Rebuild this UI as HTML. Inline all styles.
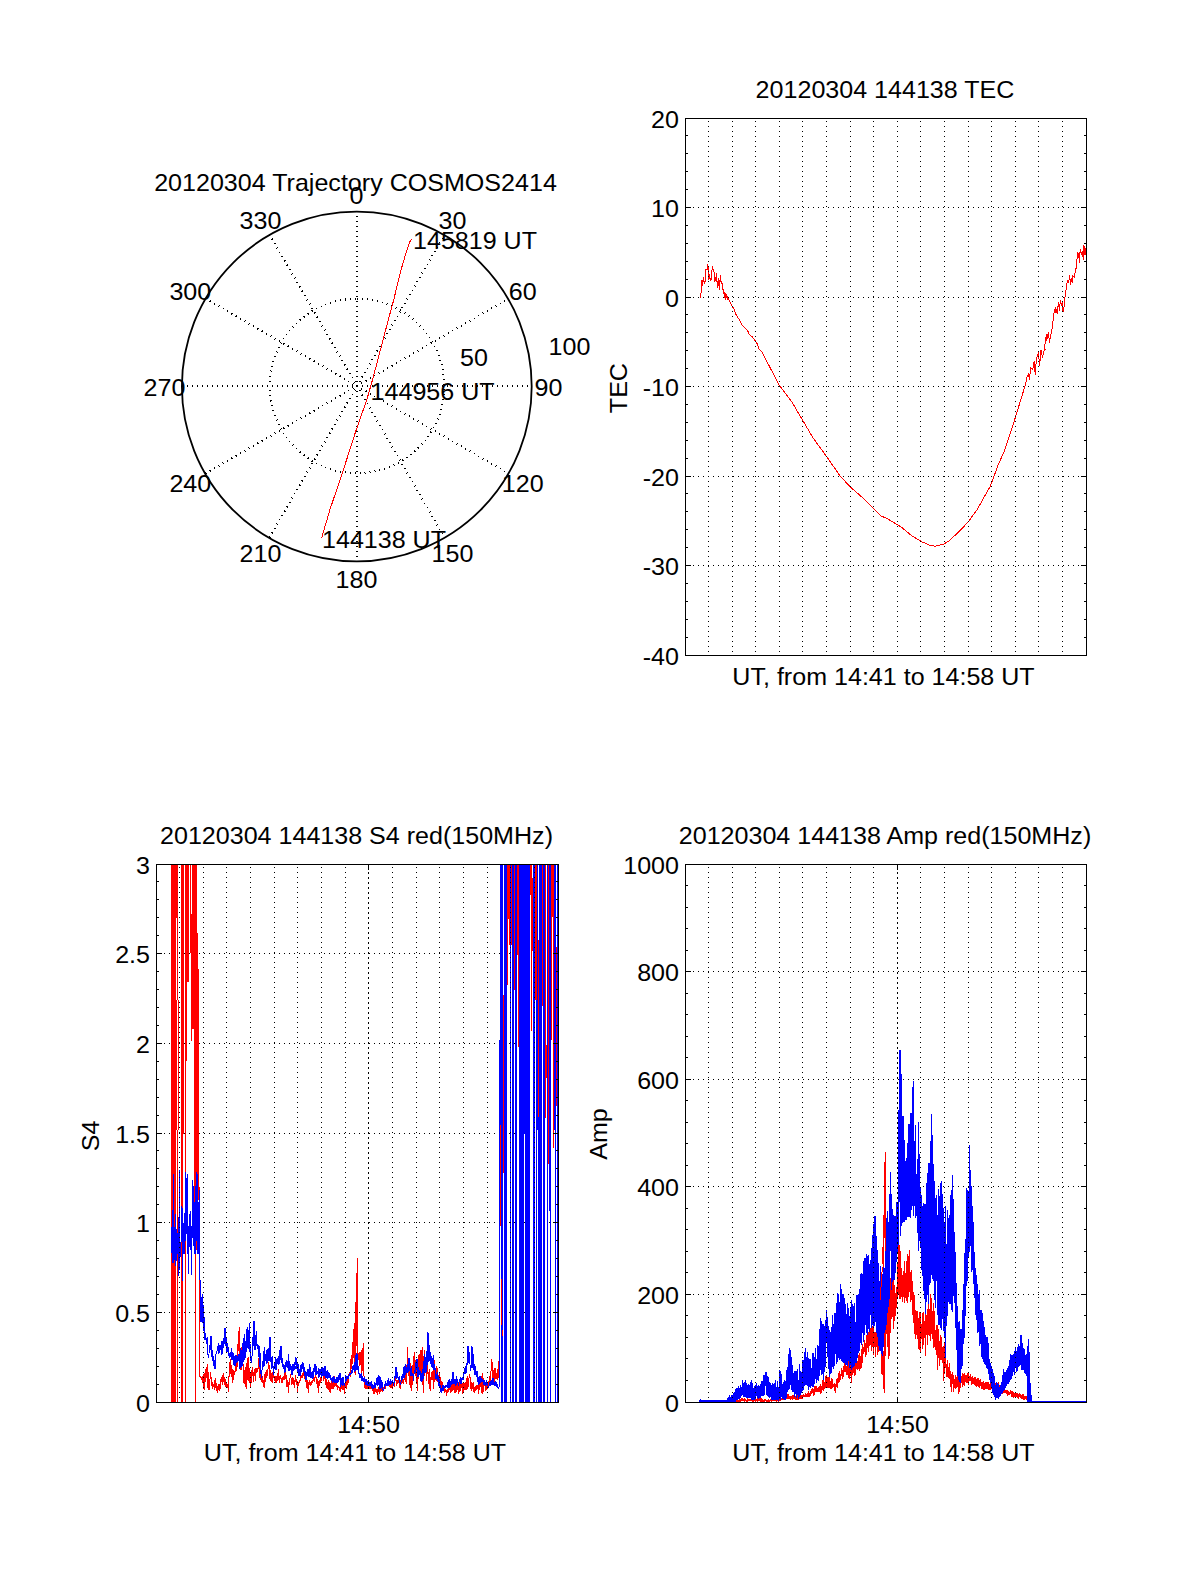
<!DOCTYPE html>
<html lang="en"><head><meta charset="utf-8"><title>20120304 144138 COSMOS2414</title>
<style>
html,body{margin:0;padding:0;background:#fff}
body{width:1200px;height:1575px;overflow:hidden}
svg{display:block;font-family:"Liberation Sans",Arial,Helvetica,sans-serif;fill:#000}
.ax{stroke:#000;stroke-width:1;fill:none;shape-rendering:crispEdges}
.gmaj{stroke:#000;stroke-width:1;fill:none;stroke-dasharray:1 4;shape-rendering:crispEdges}
.gmin{stroke:#000;stroke-width:1;fill:none;stroke-dasharray:1 4;shape-rendering:crispEdges}
.pg{stroke:#000;stroke-width:2;fill:none;stroke-dasharray:1 4;shape-rendering:crispEdges}
.pc{stroke:#000;stroke-width:1.8;fill:none}
.gx{stroke:#000;stroke-width:1;fill:none;stroke-dasharray:2 3;shape-rendering:crispEdges}
.fr{fill:#f00;shape-rendering:crispEdges}
.fb{fill:#00f;shape-rendering:crispEdges}
.fw{fill:#fff;shape-rendering:crispEdges}
.ra{stroke:#f00;stroke-width:1;fill:none}
.r{stroke:#f00;stroke-width:1;fill:none;shape-rendering:crispEdges;stroke-linejoin:round}
.b{stroke:#00f;stroke-width:1;fill:none;shape-rendering:crispEdges;stroke-linejoin:round}
</style></head><body>
<svg width="1200" height="1575" viewBox="0 0 1200 1575">
<rect width="1200" height="1575" fill="#fff"/>
<text transform="translate(355.5 191) scale(1.045 1)" text-anchor="middle" font-size="24">20120304 Trajectory COSMOS2414</text>
<path class="pg" d="M269.50 537.55L444.50 234.45"/>
<path class="pg" d="M205.45 473.50L508.55 298.50"/>
<path class="pg" d="M182.00 386.00L532.00 386.00"/>
<path class="pg" d="M205.45 298.50L508.55 473.50"/>
<path class="pg" d="M269.50 234.45L444.50 537.55"/>
<path class="pg" d="M357.00 211.00L357.00 561.00"/>
<path class="pg" d="M357 298.75A87.25 87.25 0 1 1 357 473.25A87.25 87.25 0 1 1 357 298.75"/>
<circle class="pc" cx="356.8" cy="386.5" r="174.9"/>
<text transform="translate(356.5 203.5) scale(1.045 1)" text-anchor="middle" font-size="24">0</text>
<text transform="translate(452.5 229.3) scale(1.045 1)" text-anchor="middle" font-size="24">30</text>
<text transform="translate(522.7 299.5) scale(1.045 1)" text-anchor="middle" font-size="24">60</text>
<text transform="translate(548.5 395.5) scale(1.045 1)" text-anchor="middle" font-size="24">90</text>
<text transform="translate(522.7 491.5) scale(1.045 1)" text-anchor="middle" font-size="24">120</text>
<text transform="translate(452.5 561.7) scale(1.045 1)" text-anchor="middle" font-size="24">150</text>
<text transform="translate(356.5 587.5) scale(1.045 1)" text-anchor="middle" font-size="24">180</text>
<text transform="translate(260.5 561.7) scale(1.045 1)" text-anchor="middle" font-size="24">210</text>
<text transform="translate(190.3 491.5) scale(1.045 1)" text-anchor="middle" font-size="24">240</text>
<text transform="translate(164.5 395.5) scale(1.045 1)" text-anchor="middle" font-size="24">270</text>
<text transform="translate(190.3 299.5) scale(1.045 1)" text-anchor="middle" font-size="24">300</text>
<text transform="translate(260.5 229.3) scale(1.045 1)" text-anchor="middle" font-size="24">330</text>
<text transform="translate(460 366) scale(1.045 1)" text-anchor="start" font-size="24">50</text>
<text transform="translate(548.5 355) scale(1.045 1)" text-anchor="start" font-size="24">100</text>
<path class="r" d="M321.5 538.5L329.8 510.0L342.5 472.5L356.0 430.5L366.9 399.4L373.1 377.7L380.0 351.4L386.9 325.1L393.7 300.0L400.6 271.4L406.3 252.0L409.7 241.7L411.8 239.4"/>
<text transform="translate(322 547.5) scale(1.045 1)" text-anchor="start" font-size="24">144138 UT</text>
<text transform="translate(370.6 400) scale(1.045 1)" text-anchor="start" font-size="24">144956 UT</text>
<text transform="translate(413 249) scale(1.045 1)" text-anchor="start" font-size="24">145819 UT</text>
<path class="gmaj" d="M693 565.5H1086"/>
<path class="gmaj" d="M693 476.5H1086"/>
<path class="gmaj" d="M693 386.5H1086"/>
<path class="gmaj" d="M693 297.5H1086"/>
<path class="gmaj" d="M693 207.5H1086"/>
<path class="r" d="M700.0 297.5L701.2 292.5L701.7 280.4L702.5 285.8L703.3 277.5L704.2 283.3L705.4 280.8L705.8 269.6L707.1 270.0L707.5 264.6L708.5 267.9L708.8 280.0L709.6 275.0L710.4 280.8L711.2 279.2L711.8 271.7L712.5 266.2L713.3 270.0L714.2 272.5L714.8 281.2L715.8 278.3L716.5 273.3L717.3 287.5L718.3 278.8L719.3 289.2L720.4 275.0L721.2 283.3L722.1 283.3L722.9 290.0L723.8 289.2L724.2 297.5L725.0 292.5L725.7 300.0L726.7 294.2L727.5 300.0L728.3 298.3L732.5 306.7L734.2 309.2L735.8 314.2L740.0 320.8L742.1 325.0L747.5 330.4L749.2 334.2L752.5 337.1L757.5 344.2L759.2 349.6L761.7 351.7L779.2 385.0L791.7 401.7L802.5 420.0L813.3 438.3L826.7 456.7L840.0 475.8L850.0 486.7L863.3 498.3L873.3 508.3L880.8 515.8L888.3 519.2L900.8 526.7L911.7 535.8L921.7 541.7L929.2 545.0L935.0 546.3L941.7 544.7L944.0 543.9L948.9 541.1L960.7 530.0L968.4 521.6L977.5 509.0L984.5 496.4L990.1 486.7L994.3 475.5L998.4 464.3L1004.0 451.7L1008.2 439.2L1013.8 422.4L1019.4 404.3L1025.0 386.1L1027.1 377.0L1028.5 373.5L1029.5 379.8L1030.6 367.2L1032.7 370.0L1034.1 361.7L1035.2 374.2L1036.4 359.6L1038.3 352.6L1039.7 365.1L1041.0 349.8L1042.4 357.5L1044.3 349.8L1045.4 349.1L1044.7 349.6L1045.4 337.4L1046.2 340.5L1047.0 334.4L1047.7 338.2L1048.5 332.5L1049.5 342.4L1050.4 336.7L1051.5 331.3L1052.7 326.0L1053.4 315.3L1054.6 310.0L1055.1 313.0L1055.7 307.3L1057.2 313.4L1058.4 302.4L1059.5 310.8L1060.3 300.5L1061.4 305.4L1062.2 302.4L1063.0 311.9L1064.1 306.2L1064.7 298.6L1065.6 293.2L1066.5 286.4L1067.5 280.3L1068.7 282.6L1069.6 275.3L1070.6 284.5L1071.7 278.8L1072.6 282.6L1072.9 275.7L1074.4 277.2L1075.1 271.9L1076.1 268.1L1076.9 261.2L1077.4 252.1L1078.2 257.4L1079.0 252.9L1079.3 262.8L1080.2 249.4L1081.2 254.4L1082.2 251.3L1082.8 256.3L1083.4 245.2L1083.8 259.3L1084.5 246.4L1085.0 255.1L1085.8 248.3"/>
<path class="gmin" d="M708.5 121V655"/>
<path class="gmin" d="M732.5 121V655"/>
<path class="gmin" d="M755.5 121V655"/>
<path class="gmin" d="M779.5 121V655"/>
<path class="gmin" d="M802.5 121V655"/>
<path class="gmin" d="M826.5 121V655"/>
<path class="gmin" d="M850.5 121V655"/>
<path class="gmin" d="M873.5 121V655"/>
<path class="gmin" d="M897.5 121V655"/>
<path class="gmin" d="M920.5 121V655"/>
<path class="gmin" d="M944.5 121V655"/>
<path class="gmin" d="M968.5 121V655"/>
<path class="gmin" d="M991.5 121V655"/>
<path class="gmin" d="M1015.5 121V655"/>
<path class="gmin" d="M1038.5 121V655"/>
<path class="gmin" d="M1062.5 121V655"/>
<path class="ax" d="M685.5 118.5H1086.5V655.5H685.5Z"/>
<path class="ax" d="M685 655.5h6M1087 655.5h-6"/>
<text transform="translate(679 664.5) scale(1.045 1)" text-anchor="end" font-size="24">-40</text>
<path class="ax" d="M685 637.5h3M1087 637.5h-3"/>
<path class="ax" d="M685 619.5h3M1087 619.5h-3"/>
<path class="ax" d="M685 601.5h3M1087 601.5h-3"/>
<path class="ax" d="M685 583.5h3M1087 583.5h-3"/>
<path class="ax" d="M685 565.5h6M1087 565.5h-6"/>
<text transform="translate(679 574.5) scale(1.045 1)" text-anchor="end" font-size="24">-30</text>
<path class="ax" d="M685 547.5h3M1087 547.5h-3"/>
<path class="ax" d="M685 529.5h3M1087 529.5h-3"/>
<path class="ax" d="M685 511.5h3M1087 511.5h-3"/>
<path class="ax" d="M685 493.5h3M1087 493.5h-3"/>
<path class="ax" d="M685 476.5h6M1087 476.5h-6"/>
<text transform="translate(679 485.5) scale(1.045 1)" text-anchor="end" font-size="24">-20</text>
<path class="ax" d="M685 458.5h3M1087 458.5h-3"/>
<path class="ax" d="M685 440.5h3M1087 440.5h-3"/>
<path class="ax" d="M685 422.5h3M1087 422.5h-3"/>
<path class="ax" d="M685 404.5h3M1087 404.5h-3"/>
<path class="ax" d="M685 386.5h6M1087 386.5h-6"/>
<text transform="translate(679 395.5) scale(1.045 1)" text-anchor="end" font-size="24">-10</text>
<path class="ax" d="M685 368.5h3M1087 368.5h-3"/>
<path class="ax" d="M685 350.5h3M1087 350.5h-3"/>
<path class="ax" d="M685 332.5h3M1087 332.5h-3"/>
<path class="ax" d="M685 314.5h3M1087 314.5h-3"/>
<path class="ax" d="M685 297.5h6M1087 297.5h-6"/>
<text transform="translate(679 306.5) scale(1.045 1)" text-anchor="end" font-size="24">0</text>
<path class="ax" d="M685 279.5h3M1087 279.5h-3"/>
<path class="ax" d="M685 261.5h3M1087 261.5h-3"/>
<path class="ax" d="M685 243.5h3M1087 243.5h-3"/>
<path class="ax" d="M685 225.5h3M1087 225.5h-3"/>
<path class="ax" d="M685 207.5h6M1087 207.5h-6"/>
<text transform="translate(679 216.5) scale(1.045 1)" text-anchor="end" font-size="24">10</text>
<path class="ax" d="M685 189.5h3M1087 189.5h-3"/>
<path class="ax" d="M685 171.5h3M1087 171.5h-3"/>
<path class="ax" d="M685 153.5h3M1087 153.5h-3"/>
<path class="ax" d="M685 135.5h3M1087 135.5h-3"/>
<path class="ax" d="M685 118.5h6M1087 118.5h-6"/>
<text transform="translate(679 127.5) scale(1.045 1)" text-anchor="end" font-size="24">20</text>
<text transform="translate(885.0 97.5) scale(1.045 1)" text-anchor="middle" font-size="24">20120304 144138 TEC</text>
<text transform="translate(883.5 684.5) scale(1.045 1)" text-anchor="middle" font-size="24">UT, from 14:41 to 14:58 UT</text>
<text transform="translate(626.5 388.1) rotate(-90) scale(1.045 1)" text-anchor="middle" font-size="24">TEC</text>
<path class="gmaj" d="M164 1312.5H558"/>
<path class="gmaj" d="M164 1222.5H558"/>
<path class="gmaj" d="M164 1133.5H558"/>
<path class="gmaj" d="M164 1043.5H558"/>
<path class="gmaj" d="M164 953.5H558"/>
<rect class="fr" x="171" y="865" width="5" height="537"/>
<rect class="fr" x="176" y="865" width="1" height="53"/>
<rect class="fr" x="176" y="1000" width="1" height="130"/>
<rect class="fr" x="177" y="865" width="1" height="135"/>
<rect class="fr" x="177" y="1130" width="1" height="272"/>
<rect class="fr" x="178" y="1000" width="1" height="130"/>
<rect class="fr" x="181" y="865" width="2" height="537"/>
<rect class="fr" x="183" y="865" width="1" height="269"/>
<rect class="fr" x="185" y="865" width="1" height="537"/>
<rect class="fr" x="186" y="865" width="1" height="196"/>
<rect class="fr" x="187" y="865" width="2" height="117"/>
<rect class="fr" x="190" y="865" width="1" height="88"/>
<rect class="fr" x="191" y="914" width="1" height="127"/>
<rect class="fr" x="192" y="865" width="2" height="164"/>
<rect class="fr" x="194" y="865" width="1" height="385"/>
<rect class="fr" x="195" y="865" width="1" height="537"/>
<rect class="fr" x="196" y="865" width="1" height="385"/>
<rect class="fr" x="197" y="933" width="1" height="267"/>
<rect class="fr" x="198" y="969" width="1" height="231"/>
<rect class="fr" x="199" y="1187" width="1" height="189"/>
<path class="r" d="M199.5 1376.0L201.1 1377.4L201.6 1379.5L202.1 1377.1L202.6 1382.8L203.1 1374.6L203.6 1384.5L204.1 1390.0L204.6 1386.7L205.1 1369.8L205.6 1381.8L206.1 1367.0L206.6 1377.5L207.1 1364.4L207.6 1387.6L208.1 1372.7L208.6 1389.6L209.1 1390.0L209.6 1389.2L210.1 1377.2L210.6 1372.5L211.1 1378.0L211.6 1386.0L212.1 1382.2L212.6 1388.5L213.1 1386.1L213.6 1386.5L214.1 1383.7L214.6 1389.7L215.1 1378.1L215.6 1387.2L216.1 1383.6L216.6 1390.3L217.1 1388.2L217.6 1392.5L218.1 1384.1L218.6 1389.3L219.1 1385.8L219.6 1390.3L220.1 1382.1L220.6 1388.1L221.1 1376.9L221.6 1381.9L222.1 1379.2L222.6 1384.3L223.1 1373.1L223.6 1381.2L224.1 1376.9L224.6 1384.3L225.1 1379.4L225.6 1386.6L226.1 1383.3L226.6 1387.2L227.1 1384.2L227.6 1387.8L228.1 1388.2L228.6 1391.9L229.1 1373.3L229.6 1376.8L230.1 1358.8L230.6 1373.5L231.1 1365.5L231.6 1376.8L232.1 1369.6L232.6 1382.4L233.1 1370.2L233.6 1379.1L234.1 1370.8L234.6 1375.0L235.1 1370.2L235.6 1371.1L236.1 1364.1L236.6 1370.4L237.1 1357.4L237.6 1366.1L238.1 1339.1L238.6 1350.5L239.1 1326.9L239.6 1354.9L240.1 1353.1L240.6 1368.7L241.1 1370.0L241.6 1363.8L242.1 1343.8L242.6 1363.9L243.1 1364.3L243.6 1382.1L244.1 1371.1L244.6 1383.6L245.1 1367.4L245.6 1379.2L246.1 1388.8L246.6 1384.1L247.1 1358.0L247.6 1379.3L248.1 1357.5L248.6 1380.9L249.1 1367.9L249.6 1382.6L250.1 1373.7L250.6 1387.5L251.1 1371.9L251.6 1382.7L252.1 1367.3L252.6 1375.5L253.1 1372.3L253.6 1381.8L254.1 1371.1L254.6 1375.8L255.1 1367.9L255.6 1380.5L256.1 1368.2L256.6 1372.1L257.1 1368.0L257.6 1371.4L258.1 1367.9L258.6 1358.1L259.1 1369.3L259.6 1377.4L260.1 1373.5L260.6 1380.0L261.1 1375.2L261.6 1381.2L262.1 1376.6L262.6 1382.2L263.1 1380.5L263.6 1382.9L264.1 1387.5L264.6 1380.8L265.1 1372.2L265.6 1381.8L266.1 1372.4L266.6 1377.1L267.1 1369.0L267.6 1375.5L268.1 1367.8L268.6 1362.5L269.1 1365.4L269.6 1378.9L270.1 1370.3L270.6 1380.6L271.1 1373.1L271.6 1378.8L272.1 1382.5L272.6 1377.8L273.1 1370.8L273.6 1377.7L274.1 1376.7L274.6 1380.7L275.1 1376.6L275.6 1382.0L276.1 1382.5L276.6 1378.6L277.1 1376.0L277.6 1381.0L278.1 1371.8L278.6 1370.0L279.1 1382.5L279.6 1379.1L280.1 1374.9L280.6 1378.6L281.1 1378.2L281.6 1382.2L282.1 1382.5L282.6 1381.6L283.1 1376.2L283.6 1379.7L284.1 1375.5L284.6 1379.6L285.1 1371.2L285.6 1378.7L286.1 1375.1L286.6 1386.7L287.1 1379.9L287.6 1386.5L288.1 1382.2L288.6 1392.5L289.1 1380.7L289.6 1384.8L290.1 1376.3L290.6 1375.0L291.1 1378.7L291.6 1384.4L292.1 1376.9L292.6 1383.6L293.1 1378.7L293.6 1384.9L294.1 1380.0L294.6 1387.5L295.1 1381.3L295.6 1375.0L296.1 1379.6L296.6 1384.9L297.1 1381.6L297.6 1391.9L298.1 1383.3L298.6 1385.9L299.1 1380.7L299.6 1382.3L300.1 1379.5L300.6 1380.1L301.1 1375.6L301.6 1377.8L302.1 1376.8L302.6 1377.2L303.1 1371.8L303.6 1375.5L304.1 1367.5L304.6 1378.4L305.1 1373.2L305.6 1381.2L306.1 1372.1L306.6 1387.4L307.1 1380.4L307.6 1388.6L308.1 1382.6L308.6 1392.5L309.1 1380.7L309.6 1384.5L310.1 1381.8L310.6 1385.2L311.1 1382.6L311.6 1384.7L312.1 1380.7L312.6 1382.2L313.1 1379.4L313.6 1380.6L314.1 1377.5L314.6 1381.4L315.1 1377.3L315.6 1372.5L316.1 1378.5L316.6 1383.8L317.1 1379.5L317.6 1387.2L318.1 1381.0L318.6 1392.5L319.1 1382.4L319.6 1385.7L320.1 1379.2L320.6 1382.7L321.1 1376.4L321.6 1380.1L322.1 1372.7L322.6 1375.6L323.1 1368.8L323.6 1380.7L324.1 1373.8L324.6 1378.7L325.1 1376.4L325.6 1385.0L326.1 1379.5L326.6 1387.7L327.1 1382.3L327.6 1388.7L328.1 1380.4L328.6 1389.2L329.1 1382.3L329.6 1391.6L330.1 1385.1L330.6 1392.5L331.1 1381.3L331.6 1388.3L332.1 1381.4L332.6 1388.3L333.1 1381.0L333.6 1389.0L334.1 1376.2L334.6 1386.6L335.1 1383.1L335.6 1385.4L336.1 1380.7L336.6 1386.5L337.1 1385.5L337.6 1389.7L338.1 1386.6L338.6 1387.2L339.1 1387.0L339.6 1390.6L340.1 1386.9L340.6 1391.4L341.1 1387.3L341.6 1388.8L342.1 1383.9L342.6 1389.2L343.1 1382.6L343.6 1389.2L344.1 1386.8L344.6 1393.1L345.1 1383.2L345.6 1387.9L346.1 1382.9L346.6 1388.6L347.1 1378.6L347.6 1384.5L348.1 1378.0L348.6 1383.0L349.1 1372.3L349.6 1375.7L350.1 1372.9L350.6 1376.4L351.1 1355.8L351.6 1368.5L352.1 1352.6L352.6 1363.1L353.1 1337.8L353.6 1357.5L354.1 1323.0L354.6 1363.2L355.1 1374.7L355.6 1351.8L356.1 1292.5L356.6 1345.2L357.1 1258.2L357.6 1353.7L358.1 1353.0L358.6 1360.0L359.1 1352.7L359.6 1366.0L360.1 1352.5L360.6 1364.3L361.1 1350.2L361.6 1377.5L362.1 1357.2L362.6 1370.6L363.1 1342.8L363.6 1374.6L364.1 1376.4L364.6 1387.7L365.1 1383.8L365.6 1388.2L366.1 1382.9L366.6 1388.3L367.1 1384.0L367.6 1389.0L368.1 1385.6L368.6 1388.8L369.1 1384.8L369.6 1388.6L370.1 1384.6L370.6 1388.9L371.1 1386.8L371.6 1388.4L372.1 1385.1L372.6 1390.1L373.1 1386.9L373.6 1393.1L374.1 1387.0L374.6 1393.2L375.1 1387.6L375.6 1392.0L376.1 1388.8L376.6 1392.3L377.1 1390.9L377.6 1394.5L378.1 1387.5L378.6 1391.5L379.1 1387.1L379.6 1393.4L380.1 1388.4L380.6 1391.9L381.1 1388.6L381.6 1390.1L382.1 1387.7L382.6 1391.1L383.1 1387.2L383.6 1390.0L384.1 1386.8L384.6 1388.6L385.1 1384.8L385.6 1388.8L386.1 1383.0L386.6 1386.0L387.1 1381.8L387.6 1385.4L388.1 1381.9L388.6 1385.0L389.1 1382.0L389.6 1386.8L390.1 1383.3L390.6 1387.7L391.1 1383.6L391.6 1386.2L392.1 1388.8L392.6 1385.0L393.1 1382.4L393.6 1385.0L394.1 1380.9L394.6 1386.5L395.1 1380.3L395.6 1377.5L396.1 1380.4L396.6 1385.4L397.1 1380.2L397.6 1383.5L398.1 1380.2L398.6 1383.0L399.1 1381.4L399.6 1388.0L400.1 1382.5L400.6 1388.8L401.1 1378.7L401.6 1383.5L402.1 1379.1L402.6 1382.9L403.1 1379.3L403.6 1383.9L404.1 1379.6L404.6 1378.9L405.1 1368.2L405.6 1381.8L406.1 1365.3L406.6 1383.1L407.1 1361.0L407.6 1347.0L408.1 1361.0L408.6 1375.1L409.1 1359.7L409.6 1384.8L410.1 1363.5L410.6 1377.8L411.1 1390.3L411.6 1376.6L412.1 1366.9L412.6 1384.5L413.1 1361.8L413.6 1373.4L414.1 1352.7L414.6 1370.3L415.1 1359.8L415.6 1375.9L416.1 1371.2L416.6 1383.7L417.1 1358.8L417.6 1390.3L418.1 1355.0L418.6 1378.4L419.1 1362.3L419.6 1372.4L420.1 1350.6L420.6 1375.7L421.1 1350.0L421.6 1375.4L422.1 1362.9L422.6 1347.0L423.1 1393.1L423.6 1382.3L424.1 1349.8L424.6 1375.9L425.1 1365.1L425.6 1368.1L426.1 1358.3L426.6 1381.0L427.1 1360.3L427.6 1373.5L428.1 1372.6L428.6 1384.0L429.1 1369.2L429.6 1385.5L430.1 1390.3L430.6 1383.2L431.1 1375.1L431.6 1379.1L432.1 1370.9L432.6 1379.2L433.1 1373.9L433.6 1388.6L434.1 1360.5L434.6 1381.3L435.1 1375.6L435.6 1379.2L436.1 1365.9L436.6 1380.4L437.1 1368.2L437.6 1382.0L438.1 1378.8L438.6 1384.2L439.1 1373.5L439.6 1385.5L440.1 1377.0L440.6 1385.9L441.1 1381.6L441.6 1389.9L442.1 1382.7L442.6 1389.4L443.1 1385.2L443.6 1390.1L444.1 1387.5L444.6 1392.6L445.1 1389.1L445.6 1391.3L446.1 1389.9L446.6 1395.9L447.1 1389.9L447.6 1392.1L448.1 1387.9L448.6 1391.8L449.1 1385.6L449.6 1389.4L450.1 1387.7L450.6 1392.1L451.1 1382.3L451.6 1391.2L452.1 1386.2L452.6 1390.9L453.1 1379.3L453.6 1377.5L454.1 1393.1L454.6 1389.7L455.1 1383.0L455.6 1392.8L456.1 1380.5L456.6 1391.7L457.1 1382.2L457.6 1389.6L458.1 1383.0L458.6 1393.1L459.1 1382.7L459.6 1391.3L460.1 1384.9L460.6 1390.4L461.1 1383.2L461.6 1387.9L462.1 1383.7L462.6 1393.1L463.1 1383.6L463.6 1392.3L464.1 1385.6L464.6 1389.7L465.1 1381.8L465.6 1390.0L466.1 1384.2L466.6 1389.8L467.1 1375.9L467.6 1388.7L468.1 1381.8L468.6 1386.6L469.1 1376.1L469.6 1374.7L470.1 1378.1L470.6 1388.2L471.1 1382.6L471.6 1390.6L472.1 1383.4L472.6 1388.2L473.1 1382.1L473.6 1388.8L474.1 1393.1L474.6 1391.7L475.1 1386.4L475.6 1390.5L476.1 1384.9L476.6 1389.9L477.1 1386.8L477.6 1388.6L478.1 1383.8L478.6 1393.1L479.1 1385.0L479.6 1389.1L480.1 1381.5L480.6 1386.1L481.1 1378.1L481.6 1392.4L482.1 1373.3L482.6 1393.1L483.1 1378.5L483.6 1391.3L484.1 1380.6L484.6 1385.4L485.1 1384.7L485.6 1390.7L486.1 1384.0L486.6 1389.2L487.1 1383.7L487.6 1389.0L488.1 1383.7L488.6 1387.0L489.1 1379.8L489.6 1384.6L490.1 1374.8L490.6 1383.3L491.1 1368.1L491.6 1359.1L492.1 1362.6L492.6 1381.6L493.1 1373.4L493.6 1377.5L494.1 1368.7L494.6 1383.9L495.1 1368.7L495.6 1378.1L496.1 1372.8L496.6 1379.0L497.1 1373.0L497.6 1379.9L498.1 1366.3L498.6 1377.5L499.1 1358.4L499.5 1358.0"/>
<rect class="fb" x="504" y="865" width="3" height="537"/>
<rect class="fb" x="510" y="865" width="1" height="537"/>
<rect class="fb" x="512" y="865" width="2" height="537"/>
<rect class="fb" x="515" y="865" width="2" height="537"/>
<rect class="fb" x="519" y="865" width="5" height="537"/>
<rect class="fb" x="524" y="865" width="1" height="269"/>
<rect class="fb" x="525" y="865" width="5" height="537"/>
<rect class="fb" x="533" y="865" width="2" height="537"/>
<rect class="fb" x="536" y="1000" width="1" height="402"/>
<rect class="fb" x="537" y="865" width="1" height="265"/>
<rect class="fb" x="538" y="1117" width="1" height="285"/>
<rect class="fb" x="539" y="865" width="3" height="537"/>
<rect class="fb" x="543" y="865" width="2" height="537"/>
<rect class="fb" x="547" y="865" width="1" height="537"/>
<rect class="fb" x="549" y="865" width="1" height="346"/>
<rect class="fb" x="550" y="865" width="1" height="537"/>
<rect class="fb" x="554" y="865" width="1" height="265"/>
<rect class="fb" x="555" y="865" width="1" height="537"/>
<rect class="fb" x="557" y="865" width="1" height="537"/>
<rect class="fb" x="499" y="1040" width="1" height="346"/>
<rect class="fb" x="500" y="865" width="1" height="260"/>
<rect class="fb" x="501" y="865" width="2" height="537"/>
<rect class="fr" x="500" y="1125" width="1" height="101"/>
<rect class="fr" x="503" y="995" width="1" height="178"/>
<rect class="fr" x="501" y="1279" width="1" height="46"/>
<rect class="fr" x="502" y="1330" width="1" height="6"/>
<rect class="fr" x="507" y="865" width="1" height="120"/>
<rect class="fr" x="508" y="865" width="1" height="54"/>
<rect class="fr" x="509" y="865" width="1" height="80"/>
<rect class="fr" x="511" y="865" width="1" height="80"/>
<rect class="fr" x="514" y="865" width="1" height="125"/>
<rect class="fr" x="517" y="865" width="1" height="90"/>
<rect class="fr" x="518" y="865" width="1" height="182"/>
<rect class="fr" x="530" y="865" width="1" height="30"/>
<rect class="fr" x="531" y="865" width="1" height="166"/>
<rect class="fr" x="532" y="878" width="1" height="73"/>
<rect class="fr" x="535" y="865" width="2" height="135"/>
<rect class="fr" x="538" y="940" width="1" height="177"/>
<rect class="fr" x="542" y="865" width="1" height="141"/>
<rect class="fr" x="545" y="865" width="1" height="253"/>
<rect class="fr" x="546" y="1045" width="1" height="33"/>
<rect class="fr" x="548" y="865" width="1" height="299"/>
<rect class="fr" x="551" y="865" width="1" height="175"/>
<rect class="fr" x="552" y="865" width="1" height="52"/>
<rect class="fr" x="553" y="865" width="1" height="283"/>
<rect class="fr" x="556" y="947" width="1" height="159"/>
<rect class="fb" x="171" y="1227" width="1" height="26"/>
<rect class="fb" x="172" y="1210" width="1" height="53"/>
<rect class="fb" x="173" y="1174" width="1" height="89"/>
<rect class="fb" x="174" y="1227" width="1" height="33"/>
<rect class="fb" x="175" y="1214" width="1" height="52"/>
<rect class="fb" x="176" y="1229" width="1" height="32"/>
<rect class="fb" x="177" y="1233" width="1" height="21"/>
<rect class="fb" x="178" y="1217" width="1" height="59"/>
<rect class="fb" x="179" y="1170" width="1" height="100"/>
<rect class="fb" x="180" y="1242" width="1" height="15"/>
<rect class="fb" x="181" y="1206" width="1" height="36"/>
<rect class="fb" x="182" y="1208" width="1" height="73"/>
<rect class="fb" x="183" y="1223" width="1" height="31"/>
<rect class="fb" x="184" y="1213" width="1" height="41"/>
<rect class="fb" x="185" y="1172" width="1" height="69"/>
<rect class="fb" x="186" y="1178" width="1" height="56"/>
<rect class="fb" x="187" y="1174" width="1" height="80"/>
<rect class="fb" x="188" y="1226" width="1" height="48"/>
<rect class="fb" x="189" y="1214" width="1" height="33"/>
<rect class="fb" x="190" y="1211" width="1" height="39"/>
<rect class="fb" x="191" y="1226" width="1" height="49"/>
<rect class="fb" x="192" y="1180" width="1" height="58"/>
<rect class="fb" x="193" y="1186" width="1" height="60"/>
<rect class="fb" x="194" y="1202" width="1" height="52"/>
<rect class="fb" x="195" y="1186" width="1" height="68"/>
<rect class="fb" x="196" y="1172" width="1" height="69"/>
<rect class="fb" x="197" y="1174" width="1" height="80"/>
<rect class="fb" x="198" y="1202" width="1" height="52"/>
<rect class="fb" x="199" y="1190" width="1" height="75"/>
<path class="b" d="M199.5 1265.0L200.5 1295.0L201.0 1314.0L201.5 1297.9L202.0 1318.4L202.5 1299.7L203.0 1322.9L203.5 1305.9L204.0 1322.7L204.5 1317.1L205.0 1340.1L205.5 1333.1L206.0 1340.1L206.5 1338.7L207.0 1344.1L207.5 1337.8L208.0 1354.8L208.5 1357.5L209.0 1353.8L209.5 1345.2L210.0 1350.4L210.5 1342.7L211.0 1336.2L211.5 1339.4L212.0 1357.3L212.5 1350.9L213.0 1361.3L213.5 1356.4L214.0 1366.4L214.5 1360.9L215.0 1369.4L215.5 1354.5L216.0 1354.4L216.5 1351.2L217.0 1351.6L217.5 1346.1L218.0 1351.1L218.5 1343.9L219.0 1353.8L219.5 1345.1L220.0 1349.9L220.5 1345.2L221.0 1348.5L221.5 1341.3L222.0 1355.0L222.5 1342.0L223.0 1348.2L223.5 1338.4L224.0 1344.2L224.5 1336.4L225.0 1328.1L225.5 1333.7L226.0 1345.7L226.5 1338.3L227.0 1352.1L227.5 1343.7L228.0 1351.5L228.5 1347.6L229.0 1356.3L229.5 1353.9L230.0 1357.6L230.5 1352.5L231.0 1356.4L231.5 1348.8L232.0 1360.1L232.5 1353.0L233.0 1358.4L233.5 1354.0L234.0 1364.5L234.5 1356.2L235.0 1366.2L235.5 1355.9L236.0 1363.0L236.5 1356.0L237.0 1359.5L237.5 1356.5L238.0 1361.7L238.5 1355.0L239.0 1358.8L239.5 1354.7L240.0 1368.8L240.5 1348.7L241.0 1366.9L241.5 1350.3L242.0 1366.9L242.5 1343.1L243.0 1362.7L243.5 1338.1L244.0 1361.4L244.5 1334.8L245.0 1359.1L245.5 1341.7L246.0 1353.4L246.5 1330.0L247.0 1348.6L247.5 1327.2L248.0 1338.6L248.5 1330.7L249.0 1349.3L249.5 1323.8L250.0 1351.7L250.5 1344.4L251.0 1361.4L251.5 1362.5L252.0 1356.6L252.5 1337.8L253.0 1346.7L253.5 1337.5L254.0 1321.2L254.5 1325.9L255.0 1350.4L255.5 1335.9L256.0 1344.4L256.5 1331.8L257.0 1346.3L257.5 1344.6L258.0 1348.6L258.5 1345.2L259.0 1357.3L259.5 1347.0L260.0 1366.7L260.5 1353.2L261.0 1374.0L261.5 1377.5L262.0 1370.5L262.5 1362.2L263.0 1361.3L263.5 1351.2L264.0 1366.7L264.5 1347.8L265.0 1360.7L265.5 1354.8L266.0 1361.0L266.5 1351.0L267.0 1363.9L267.5 1349.6L268.0 1355.1L268.5 1349.0L269.0 1361.2L269.5 1347.9L270.0 1336.9L270.5 1351.7L271.0 1361.8L271.5 1357.7L272.0 1369.1L272.5 1357.0L273.0 1368.2L273.5 1375.0L274.0 1366.5L274.5 1363.7L275.0 1368.6L275.5 1357.2L276.0 1370.1L276.5 1359.4L277.0 1363.9L277.5 1358.1L278.0 1359.6L278.5 1356.2L279.0 1364.7L279.5 1350.3L280.0 1360.5L280.5 1349.2L281.0 1346.2L281.5 1356.3L282.0 1363.4L282.5 1358.1L283.0 1366.8L283.5 1364.7L284.0 1369.4L284.5 1365.7L285.0 1372.5L285.5 1362.2L286.0 1367.3L286.5 1360.3L287.0 1366.8L287.5 1361.2L288.0 1367.5L288.5 1355.0L289.0 1370.9L289.5 1361.1L290.0 1370.8L290.5 1364.4L291.0 1370.1L291.5 1366.1L292.0 1375.0L292.5 1365.0L293.0 1371.2L293.5 1365.0L294.0 1370.8L294.5 1362.7L295.0 1369.2L295.5 1365.5L296.0 1357.5L296.5 1363.2L297.0 1368.9L297.5 1362.3L298.0 1372.9L298.5 1364.6L299.0 1375.8L299.5 1369.4L300.0 1376.2L300.5 1365.8L301.0 1372.0L301.5 1364.8L302.0 1369.6L302.5 1364.3L303.0 1362.5L303.5 1366.9L304.0 1372.2L304.5 1367.9L305.0 1376.3L305.5 1371.7L306.0 1380.0L306.5 1372.4L307.0 1375.9L307.5 1369.6L308.0 1376.3L308.5 1369.4L309.0 1377.3L309.5 1364.4L310.0 1371.9L310.5 1367.2L311.0 1378.0L311.5 1372.3L312.0 1378.0L312.5 1371.6L313.0 1378.8L313.5 1368.9L314.0 1372.6L314.5 1368.8L315.0 1364.4L315.5 1365.5L316.0 1375.0L316.5 1366.7L317.0 1374.1L317.5 1371.5L318.0 1373.4L318.5 1368.9L319.0 1377.5L319.5 1369.9L320.0 1373.2L320.5 1369.3L321.0 1374.9L321.5 1368.8L322.0 1376.7L322.5 1367.5L323.0 1375.9L323.5 1368.4L324.0 1375.9L324.5 1369.2L325.0 1366.2L325.5 1366.6L326.0 1378.1L326.5 1371.2L327.0 1377.6L327.5 1370.1L328.0 1378.7L328.5 1372.6L329.0 1376.9L329.5 1373.7L330.0 1378.2L330.5 1375.3L331.0 1380.4L331.5 1378.3L332.0 1380.6L332.5 1377.6L333.0 1382.6L333.5 1376.7L334.0 1380.5L334.5 1377.1L335.0 1383.0L335.5 1379.3L336.0 1381.1L336.5 1377.3L337.0 1382.8L337.5 1377.5L338.0 1382.6L338.5 1375.9L339.0 1379.9L339.5 1376.9L340.0 1373.1L340.5 1386.2L341.0 1384.8L341.5 1378.6L342.0 1383.1L342.5 1377.6L343.0 1385.6L343.5 1377.6L344.0 1384.0L344.5 1386.0L345.0 1383.1L345.5 1375.7L346.0 1380.7L346.5 1376.9L347.0 1378.6L347.5 1376.4L348.0 1379.1L348.5 1375.8L349.0 1376.4L349.5 1373.5L350.0 1375.0L350.5 1373.4L351.0 1373.8L351.5 1370.6L352.0 1373.2L352.5 1366.2L353.0 1369.7L353.5 1365.8L354.0 1367.0L354.5 1362.9L355.0 1372.1L355.5 1355.9L356.0 1370.3L356.5 1355.2L357.0 1353.4L357.5 1362.0L358.0 1370.3L358.5 1366.4L359.0 1373.7L359.5 1373.5L360.0 1378.0L360.5 1374.4L361.0 1377.8L361.5 1373.2L362.0 1380.9L362.5 1376.3L363.0 1379.4L363.5 1378.5L364.0 1382.0L364.5 1377.5L365.0 1381.3L365.5 1379.5L366.0 1384.8L366.5 1379.3L367.0 1383.5L367.5 1381.2L368.0 1386.3L368.5 1380.8L369.0 1384.8L369.5 1383.0L370.0 1386.4L370.5 1382.8L371.0 1386.3L371.5 1381.8L372.0 1387.6L372.5 1385.0L373.0 1388.7L373.5 1388.8L374.0 1384.9L374.5 1382.1L375.0 1387.9L375.5 1383.7L376.0 1385.8L376.5 1378.7L377.0 1383.4L377.5 1377.6L378.0 1385.6L378.5 1381.5L379.0 1375.4L379.5 1382.1L380.0 1389.1L380.5 1378.0L381.0 1387.1L381.5 1381.0L382.0 1388.3L382.5 1382.4L383.0 1390.2L383.5 1390.3L384.0 1389.0L384.5 1384.7L385.0 1385.0L385.5 1381.4L386.0 1386.4L386.5 1383.6L387.0 1385.8L387.5 1380.6L388.0 1386.3L388.5 1378.7L389.0 1384.9L389.5 1381.8L390.0 1384.9L390.5 1380.0L391.0 1384.5L391.5 1381.7L392.0 1382.6L392.5 1380.2L393.0 1381.8L393.5 1386.0L394.0 1383.8L394.5 1376.1L395.0 1377.8L395.5 1372.8L396.0 1366.9L396.5 1373.9L397.0 1378.5L397.5 1372.3L398.0 1378.4L398.5 1377.7L399.0 1380.3L399.5 1376.3L400.0 1382.9L400.5 1384.6L401.0 1382.2L401.5 1376.9L402.0 1380.5L402.5 1374.8L403.0 1377.6L403.5 1368.0L404.0 1378.3L404.5 1366.8L405.0 1375.8L405.5 1364.6L406.0 1370.3L406.5 1367.1L407.0 1373.0L407.5 1364.4L408.0 1372.8L408.5 1359.7L409.0 1358.4L409.5 1360.1L410.0 1371.1L410.5 1368.2L411.0 1375.6L411.5 1366.1L412.0 1376.1L412.5 1373.1L413.0 1374.5L413.5 1380.3L414.0 1374.4L414.5 1370.8L415.0 1374.2L415.5 1362.1L416.0 1370.3L416.5 1367.4L417.0 1359.1L417.5 1362.6L418.0 1377.2L418.5 1367.2L419.0 1372.4L419.5 1370.9L420.0 1375.4L420.5 1371.3L421.0 1381.3L421.5 1374.0L422.0 1381.8L422.5 1369.4L423.0 1379.9L423.5 1361.3L424.0 1372.1L424.5 1354.6L425.0 1372.6L425.5 1357.2L426.0 1373.4L426.5 1351.3L427.0 1365.5L427.5 1342.8L428.0 1332.2L428.5 1348.1L429.0 1361.9L429.5 1345.3L430.0 1359.4L430.5 1352.1L431.0 1363.6L431.5 1356.9L432.0 1366.9L432.5 1358.4L433.0 1368.3L433.5 1355.2L434.0 1369.6L434.5 1364.2L435.0 1370.3L435.5 1368.5L436.0 1378.7L436.5 1374.1L437.0 1377.6L437.5 1372.1L438.0 1381.3L438.5 1376.2L439.0 1385.6L439.5 1379.3L440.0 1388.3L440.5 1385.3L441.0 1391.6L441.5 1392.4L442.0 1388.3L442.5 1385.1L443.0 1391.2L443.5 1385.9L444.0 1388.1L444.5 1386.8L445.0 1387.7L445.5 1385.3L446.0 1387.0L446.5 1385.3L447.0 1387.1L447.5 1382.6L448.0 1387.8L448.5 1380.1L449.0 1387.6L449.5 1379.6L450.0 1387.8L450.5 1381.9L451.0 1385.5L451.5 1379.7L452.0 1384.0L452.5 1373.2L453.0 1371.8L453.5 1378.6L454.0 1383.6L454.5 1379.3L455.0 1383.6L455.5 1379.6L456.0 1385.8L456.5 1376.8L457.0 1382.0L457.5 1379.1L458.0 1382.8L458.5 1386.0L459.0 1381.8L459.5 1379.7L460.0 1381.8L460.5 1377.4L461.0 1384.0L461.5 1378.3L462.0 1380.5L462.5 1377.8L463.0 1380.4L463.5 1372.5L464.0 1374.0L464.5 1368.8L465.0 1374.2L465.5 1366.2L466.0 1373.2L466.5 1363.8L467.0 1364.7L467.5 1358.3L468.0 1346.3L468.5 1351.9L469.0 1362.6L469.5 1353.0L470.0 1364.4L470.5 1370.4L471.0 1368.8L471.5 1354.0L472.0 1346.3L472.5 1358.0L473.0 1368.3L473.5 1354.8L474.0 1369.7L474.5 1364.9L475.0 1375.4L475.5 1366.5L476.0 1374.6L476.5 1372.0L477.0 1377.2L477.5 1371.3L478.0 1381.7L478.5 1377.1L479.0 1384.6L479.5 1376.3L480.0 1383.5L480.5 1376.8L481.0 1382.3L481.5 1378.2L482.0 1381.0L482.5 1379.5L483.0 1382.1L483.5 1380.5L484.0 1385.1L484.5 1380.3L485.0 1383.0L485.5 1382.4L486.0 1385.5L486.5 1380.1L487.0 1383.6L487.5 1382.2L488.0 1386.0L488.5 1387.4L489.0 1386.1L489.5 1382.5L490.0 1386.4L490.5 1381.4L491.0 1385.7L491.5 1380.2L492.0 1385.4L492.5 1379.3L493.0 1378.2L493.5 1379.7L494.0 1385.4L494.5 1382.2L495.0 1385.9L495.5 1381.6L496.0 1385.7L496.5 1382.1L497.0 1386.7L497.5 1384.3L498.0 1387.9L498.5 1388.1L499.0 1387.3L499.5 1386.0"/>
<rect class="fb" x="200" y="1301" width="3" height="21"/>
<rect class="fb" x="202" y="1294" width="1" height="7"/>
<rect class="fb" x="203" y="1318" width="1" height="13"/>
<path class="gmin" d="M179.5 867V1402"/>
<path class="gmin" d="M203.5 867V1402"/>
<path class="gmin" d="M226.5 867V1402"/>
<path class="gmin" d="M250.5 867V1402"/>
<path class="gmin" d="M274.5 867V1402"/>
<path class="gmin" d="M297.5 867V1402"/>
<path class="gmin" d="M321.5 867V1402"/>
<path class="gmin" d="M345.5 867V1402"/>
<path class="gx" d="M368.5 867V1402"/>
<path class="gmin" d="M392.5 867V1402"/>
<path class="gmin" d="M416.5 867V1402"/>
<path class="gmin" d="M439.5 867V1402"/>
<path class="gmin" d="M463.5 867V1402"/>
<path class="gmin" d="M487.5 867V1402"/>
<path class="gmin" d="M510.5 867V1402"/>
<path class="gmin" d="M534.5 867V1402"/>
<path class="ax" d="M156.5 864.5H558.5V1402.5H156.5Z"/>
<path class="ax" d="M156 1402.5h6M559 1402.5h-6"/>
<text transform="translate(150 1411.5) scale(1.045 1)" text-anchor="end" font-size="24">0</text>
<path class="ax" d="M156 1384.5h3M559 1384.5h-3"/>
<path class="ax" d="M156 1366.5h3M559 1366.5h-3"/>
<path class="ax" d="M156 1348.5h3M559 1348.5h-3"/>
<path class="ax" d="M156 1330.5h3M559 1330.5h-3"/>
<path class="ax" d="M156 1312.5h6M559 1312.5h-6"/>
<text transform="translate(150 1321.5) scale(1.045 1)" text-anchor="end" font-size="24">0.5</text>
<path class="ax" d="M156 1294.5h3M559 1294.5h-3"/>
<path class="ax" d="M156 1276.5h3M559 1276.5h-3"/>
<path class="ax" d="M156 1258.5h3M559 1258.5h-3"/>
<path class="ax" d="M156 1240.5h3M559 1240.5h-3"/>
<path class="ax" d="M156 1222.5h6M559 1222.5h-6"/>
<text transform="translate(150 1231.5) scale(1.045 1)" text-anchor="end" font-size="24">1</text>
<path class="ax" d="M156 1204.5h3M559 1204.5h-3"/>
<path class="ax" d="M156 1186.5h3M559 1186.5h-3"/>
<path class="ax" d="M156 1168.5h3M559 1168.5h-3"/>
<path class="ax" d="M156 1150.5h3M559 1150.5h-3"/>
<path class="ax" d="M156 1133.5h6M559 1133.5h-6"/>
<text transform="translate(150 1142.5) scale(1.045 1)" text-anchor="end" font-size="24">1.5</text>
<path class="ax" d="M156 1115.5h3M559 1115.5h-3"/>
<path class="ax" d="M156 1097.5h3M559 1097.5h-3"/>
<path class="ax" d="M156 1079.5h3M559 1079.5h-3"/>
<path class="ax" d="M156 1061.5h3M559 1061.5h-3"/>
<path class="ax" d="M156 1043.5h6M559 1043.5h-6"/>
<text transform="translate(150 1052.5) scale(1.045 1)" text-anchor="end" font-size="24">2</text>
<path class="ax" d="M156 1025.5h3M559 1025.5h-3"/>
<path class="ax" d="M156 1007.5h3M559 1007.5h-3"/>
<path class="ax" d="M156 989.5h3M559 989.5h-3"/>
<path class="ax" d="M156 971.5h3M559 971.5h-3"/>
<path class="ax" d="M156 953.5h6M559 953.5h-6"/>
<text transform="translate(150 962.5) scale(1.045 1)" text-anchor="end" font-size="24">2.5</text>
<path class="ax" d="M156 935.5h3M559 935.5h-3"/>
<path class="ax" d="M156 917.5h3M559 917.5h-3"/>
<path class="ax" d="M156 899.5h3M559 899.5h-3"/>
<path class="ax" d="M156 881.5h3M559 881.5h-3"/>
<path class="ax" d="M156 864.5h6M559 864.5h-6"/>
<text transform="translate(150 873.5) scale(1.045 1)" text-anchor="end" font-size="24">3</text>
<path class="ax" d="M368.5 1403v-6M368.5 864v6"/>
<text transform="translate(368.5 1433) scale(1.045 1)" text-anchor="middle" font-size="24">14:50</text>
<text transform="translate(356.5 843.5) scale(1.045 1)" text-anchor="middle" font-size="24">20120304 144138 S4 red(150MHz)</text>
<text transform="translate(355.0 1461) scale(1.045 1)" text-anchor="middle" font-size="24">UT, from 14:41 to 14:58 UT</text>
<text transform="translate(98.5 1135.8) rotate(-90) scale(1.045 1)" text-anchor="middle" font-size="24">S4</text>
<path class="gmaj" d="M693 1294.5H1086"/>
<path class="gmaj" d="M693 1186.5H1086"/>
<path class="gmaj" d="M693 1079.5H1086"/>
<path class="gmaj" d="M693 971.5H1086"/>
<path class="r" d="M733.2 1401.8L733.4 1402.3L733.7 1401.2L733.9 1402.0L734.2 1401.3L734.4 1402.1L734.7 1401.1L734.9 1401.8L735.2 1400.7L735.4 1401.6L735.7 1400.8L735.9 1401.5L736.2 1400.6L736.4 1401.3L736.7 1400.7L736.9 1401.4L737.2 1401.0L737.4 1401.2L737.7 1400.2L737.9 1401.2L738.2 1400.0L738.4 1401.3L738.7 1400.3L738.9 1401.2L739.2 1400.1L739.4 1401.5L739.7 1399.5L739.9 1401.4L740.2 1399.0L740.4 1401.5L740.7 1399.1L740.9 1400.3L741.2 1399.0L741.4 1401.0L741.7 1398.8L741.9 1400.5L742.2 1398.5L742.4 1398.0L742.7 1399.2L742.9 1400.9L743.2 1399.0L743.4 1400.4L743.7 1399.7L743.9 1399.8L744.2 1398.4L744.4 1401.3L744.7 1399.6L744.9 1399.9L745.2 1399.6L745.4 1400.6L745.7 1399.9L745.9 1400.9L746.2 1399.9L746.4 1401.1L746.7 1401.3L746.9 1401.1L747.2 1400.0L747.4 1401.1L747.7 1398.9L747.9 1401.1L748.2 1399.5L748.4 1401.0L748.7 1399.4L748.9 1400.8L749.2 1399.4L749.4 1400.4L749.7 1400.1L749.9 1400.9L750.2 1399.9L750.4 1400.6L750.7 1399.4L750.9 1400.9L751.2 1400.1L751.4 1400.8L751.7 1400.1L751.9 1400.7L752.2 1401.3L752.4 1400.4L752.7 1399.4L752.9 1401.2L753.2 1399.7L753.4 1401.1L753.7 1399.6L753.9 1400.8L754.2 1399.7L754.4 1400.8L754.7 1399.7L754.9 1400.1L755.2 1398.8L755.4 1401.1L755.7 1399.0L755.9 1401.2L756.2 1399.3L756.4 1400.2L756.7 1399.0L756.9 1400.5L757.2 1398.0L757.4 1401.2L757.7 1399.5L757.9 1400.6L758.2 1399.4L758.4 1400.5L758.7 1398.7L758.9 1401.0L759.2 1398.8L759.4 1401.0L759.7 1399.0L759.9 1400.3L760.2 1399.2L760.4 1401.3L760.7 1398.9L760.9 1401.4L761.2 1398.9L761.4 1401.0L761.7 1398.7L761.9 1401.7L762.2 1399.6L762.4 1400.6L762.7 1402.0L762.9 1401.6L763.2 1400.4L763.4 1401.9L763.7 1400.2L763.9 1401.5L764.2 1399.3L764.4 1401.9L764.7 1400.2L764.9 1401.1L765.2 1399.7L765.4 1400.8L765.7 1400.3L765.9 1400.8L766.2 1400.7L766.4 1402.0L766.7 1400.4L766.9 1401.2L767.2 1400.3L767.4 1401.4L767.7 1400.7L767.9 1401.4L768.2 1402.0L768.4 1401.8L768.7 1399.9L768.9 1401.6L769.2 1400.1L769.4 1401.1L769.7 1400.1L769.9 1401.2L770.2 1399.8L770.4 1400.8L770.7 1400.4L770.9 1400.6L771.2 1400.4L771.4 1401.4L771.7 1399.5L771.9 1400.4L772.2 1399.0L772.4 1400.5L772.7 1399.8L772.9 1401.1L773.2 1398.7L773.4 1400.9L773.7 1399.2L773.9 1400.5L774.2 1399.2L774.4 1400.9L774.7 1399.6L774.9 1401.1L775.2 1399.8L775.4 1400.0L775.7 1399.4L775.9 1400.8L776.2 1399.5L776.4 1400.0L776.7 1399.5L776.9 1401.2L777.2 1399.8L777.4 1400.8L777.7 1398.7L777.9 1400.8L778.2 1400.0L778.4 1400.4L778.7 1401.3L778.9 1401.0L779.2 1399.3L779.4 1400.3L779.7 1399.1L779.9 1400.8L780.2 1398.3L780.4 1400.7L780.7 1399.0L780.9 1399.9L781.2 1399.0L781.4 1399.9L781.7 1398.1L781.9 1399.2L782.2 1398.1L782.4 1399.7L782.7 1398.4L782.9 1399.8L783.2 1398.8L783.4 1399.1L783.7 1398.1L783.9 1399.8L784.2 1398.1L784.4 1398.9L784.7 1396.8L784.9 1398.2L785.2 1396.4L785.4 1399.6L785.7 1396.0L785.9 1398.2L786.2 1397.4L786.4 1398.4L786.7 1395.6L786.9 1397.1L787.2 1396.1L787.4 1398.9L787.7 1396.1L787.9 1394.0L788.2 1396.2L788.4 1398.9L788.7 1394.3L788.9 1399.1L789.2 1396.8L789.4 1397.4L789.7 1396.3L789.9 1398.2L790.2 1396.5L790.4 1399.4L790.7 1396.6L790.9 1398.3L791.2 1395.9L791.4 1398.8L791.7 1396.9L791.9 1399.1L792.2 1400.0L792.4 1397.8L792.7 1395.3L792.9 1397.9L793.2 1395.2L793.4 1398.5L793.7 1397.4L793.9 1398.9L794.2 1396.2L794.4 1398.7L794.7 1396.4L794.9 1397.7L795.2 1397.1L795.4 1399.3L795.7 1396.6L795.9 1398.3L796.2 1397.5L796.4 1399.7L796.7 1396.5L796.9 1399.5L797.2 1396.5L797.4 1400.0L797.7 1395.5L797.9 1399.0L798.2 1397.3L798.4 1399.5L798.7 1396.4L798.9 1399.7L799.2 1396.5L799.4 1397.9L799.7 1396.7L799.9 1398.3L800.2 1396.4L800.4 1398.6L800.7 1395.0L800.9 1398.9L801.2 1396.6L801.4 1397.7L801.7 1395.6L801.9 1398.4L802.2 1395.8L802.4 1398.4L802.7 1396.1L802.9 1397.5L803.2 1394.7L803.4 1396.8L803.7 1394.1L803.9 1397.0L804.2 1395.5L804.4 1396.9L804.7 1395.5L804.9 1396.1L805.2 1395.8L805.4 1396.0L805.7 1393.5L805.9 1396.8L806.2 1394.2L806.4 1396.3L806.7 1394.2L806.9 1395.3L807.2 1393.3L807.4 1396.0L807.7 1393.0L807.9 1397.1L808.2 1391.6L808.4 1396.5L808.7 1391.5L808.9 1396.1L809.2 1393.8L809.4 1394.9L809.7 1393.3L809.9 1396.5L810.2 1392.2L810.4 1393.4L810.7 1391.3L810.9 1395.7L811.2 1389.7L811.4 1393.8L811.7 1389.8L811.9 1392.5L812.2 1391.0L812.4 1392.1L812.7 1388.4L812.9 1392.8L813.2 1390.4L813.4 1393.4L813.7 1389.4L813.9 1395.3L814.2 1388.0L814.4 1391.7L814.7 1386.4L814.9 1394.7L815.2 1386.1L815.4 1390.9L815.7 1387.0L815.9 1391.7L816.2 1386.6L816.4 1391.2L816.7 1386.9L816.9 1391.7L817.2 1388.8L817.4 1390.0L817.7 1388.0L817.9 1392.0L818.2 1387.9L818.4 1390.6L818.7 1388.0L818.9 1391.3L819.2 1386.4L819.4 1391.4L819.7 1386.5L819.9 1388.9L820.2 1384.3L820.4 1388.3L820.7 1385.2L820.9 1393.2L821.2 1386.2L821.4 1392.5L821.7 1386.6L821.9 1388.0L822.2 1385.0L822.4 1389.2L822.7 1380.3L822.9 1389.2L823.2 1383.8L823.4 1390.1L823.7 1380.7L823.9 1388.2L824.2 1383.8L824.4 1389.0L824.7 1382.4L824.9 1387.9L825.2 1380.6L825.4 1387.5L825.7 1376.7L825.9 1386.9L826.2 1381.2L826.4 1375.3L826.7 1376.7L826.9 1387.5L827.2 1377.8L827.4 1387.5L827.7 1378.2L827.9 1384.9L828.2 1379.7L828.4 1382.8L828.7 1377.7L828.9 1387.3L829.2 1376.8L829.4 1387.8L829.7 1377.9L829.9 1388.0L830.2 1381.7L830.4 1385.7L830.7 1388.7L830.9 1387.8L831.2 1378.9L831.4 1388.5L831.7 1381.4L831.9 1384.8L832.2 1379.2L832.4 1387.9L832.7 1382.4L832.9 1386.1L833.2 1384.8L833.4 1387.0L833.7 1384.5L833.9 1386.5L834.2 1382.9L834.4 1387.1L834.7 1385.2L834.9 1390.2L835.2 1386.3L835.4 1392.3L835.7 1384.2L835.9 1389.3L836.2 1383.9L836.4 1384.7L836.7 1379.9L836.9 1384.7L837.2 1381.8L837.4 1387.2L837.7 1378.6L837.9 1384.2L838.2 1375.2L838.4 1382.4L838.7 1373.9L838.9 1382.4L839.2 1373.2L839.4 1378.5L839.7 1371.8L839.9 1381.7L840.2 1374.8L840.4 1377.4L840.7 1375.0L840.9 1379.7L841.2 1370.6L841.4 1375.5L841.7 1368.6L841.9 1375.0L842.2 1372.7L842.4 1378.1L842.7 1370.5L842.9 1377.4L843.2 1368.3L843.4 1376.6L843.7 1366.2L843.9 1371.0L844.2 1366.9L844.4 1371.8L844.7 1363.1L844.9 1370.7L845.2 1367.1L845.4 1371.8L845.7 1360.4L845.9 1371.1L846.2 1367.7L846.4 1374.1L846.7 1366.2L846.9 1368.8L847.2 1365.6L847.4 1369.9L847.7 1359.1L847.9 1374.3L848.2 1367.8L848.4 1377.4L848.7 1360.3L848.9 1371.9L849.2 1367.0L849.4 1378.2L849.7 1364.5L849.9 1375.2L850.2 1362.0L850.4 1373.6L850.7 1360.8L850.9 1375.5L851.2 1369.4L851.4 1357.5L851.7 1383.0L851.9 1376.0L852.2 1367.5L852.4 1372.7L852.7 1363.0L852.9 1374.4L853.2 1364.7L853.4 1372.6L853.7 1362.6L853.9 1372.2L854.2 1362.7L854.4 1375.3L854.7 1359.3L854.9 1370.1L855.2 1360.1L855.4 1374.2L855.7 1361.8L855.9 1373.7L856.2 1362.4L856.4 1368.0L856.7 1361.0L856.9 1368.4L857.2 1363.2L857.4 1369.2L857.7 1361.4L857.9 1366.0L858.2 1355.7L858.4 1368.5L858.7 1355.2L858.9 1364.0L859.2 1353.2L859.4 1370.1L859.7 1357.5L859.9 1369.0L860.2 1359.0L860.4 1361.6L860.7 1356.5L860.9 1368.3L861.2 1349.8L861.4 1367.3L861.7 1352.5L861.9 1362.6L862.2 1352.5L862.4 1362.5L862.7 1344.4L862.9 1355.1L863.2 1347.3L863.4 1353.9L863.7 1348.1L863.9 1351.6L864.2 1340.3L864.4 1351.4L864.7 1345.9L864.9 1351.0L865.2 1345.6L865.4 1356.5L865.7 1343.6L865.9 1348.7L866.2 1340.3L866.4 1349.1L866.7 1335.3L866.9 1354.7L867.2 1339.2L867.4 1343.5L867.7 1334.4L867.9 1344.6L868.2 1333.5L868.4 1351.6L868.7 1332.2L868.9 1344.2L869.2 1332.8L869.4 1344.0L869.7 1331.7L869.9 1346.0L870.2 1335.5L870.4 1341.9L870.7 1328.9L870.9 1344.4L871.2 1320.4L871.4 1350.0L871.7 1324.9L871.9 1351.1L872.2 1328.0L872.4 1345.9L872.7 1326.6L872.9 1346.8L873.2 1328.9L873.4 1347.0L873.7 1336.6L873.9 1354.6L874.2 1333.0L874.4 1346.6L874.7 1332.8L874.9 1346.8L875.2 1340.2L875.4 1356.5L875.7 1332.3L875.9 1351.8L876.2 1340.2L876.4 1341.9L876.7 1333.1L876.9 1342.3L877.2 1328.7L877.4 1354.4L877.7 1331.4L877.9 1351.6L878.2 1312.0L878.4 1351.3L878.7 1307.1L878.9 1349.5L879.2 1302.4L879.4 1350.8L879.7 1305.0L879.9 1349.0L880.2 1295.7L880.4 1292.6L880.7 1305.1L880.9 1346.5L881.2 1312.2L881.4 1361.7L881.7 1319.8L881.9 1373.3L882.2 1325.1L882.4 1357.2L882.7 1334.7L882.9 1374.9L883.2 1355.3L883.4 1365.1L883.7 1351.0L883.9 1386.4L884.2 1392.3L884.4 1342.3L884.7 1307.8L884.9 1345.2L885.2 1216.9L885.4 1355.6L885.7 1152.4L885.9 1321.5L886.2 1263.4L886.4 1299.0L886.7 1233.9L886.9 1333.5L887.2 1250.7L887.4 1346.2L887.7 1309.0L887.9 1339.8L888.2 1299.5L888.4 1358.8L888.7 1316.0L888.9 1343.8L889.2 1294.8L889.4 1355.9L889.7 1314.4L889.9 1318.7L890.2 1304.9L890.4 1324.5L890.7 1278.6L890.9 1332.3L891.2 1290.0L891.4 1318.8L891.7 1237.3L891.9 1227.7L892.2 1253.0L892.4 1292.3L892.7 1279.1L892.9 1316.9L893.2 1273.6L893.4 1328.8L893.7 1272.3L893.9 1316.4L894.2 1289.2L894.4 1312.8L894.7 1285.6L894.9 1321.0L895.2 1293.6L895.4 1312.2L895.7 1306.3L895.9 1315.9L896.2 1296.2L896.4 1306.2L896.7 1287.8L896.9 1295.5L897.2 1280.5L897.4 1293.8L897.7 1263.9L897.9 1297.8L898.2 1259.8L898.4 1293.4L898.7 1261.9L898.9 1243.9L899.2 1247.0L899.4 1299.0L899.7 1257.2L899.9 1280.0L900.2 1251.2L900.4 1299.0L900.7 1271.9L900.9 1279.4L901.2 1269.8L901.4 1297.0L901.7 1268.7L901.9 1282.7L902.2 1280.2L902.4 1301.5L902.7 1275.6L902.9 1291.8L903.2 1271.6L903.4 1297.0L903.7 1279.9L903.9 1296.8L904.2 1261.5L904.4 1302.3L904.7 1272.1L904.9 1299.8L905.2 1275.6L905.4 1297.4L905.7 1273.0L905.9 1289.2L906.2 1269.7L906.4 1298.3L906.7 1261.7L906.9 1300.9L907.2 1266.5L907.4 1302.3L907.7 1254.4L907.9 1301.9L908.2 1256.0L908.4 1285.2L908.7 1266.6L908.9 1296.5L909.2 1253.1L909.4 1250.9L909.7 1258.2L909.9 1292.0L910.2 1277.0L910.4 1301.9L910.7 1272.4L910.9 1293.4L911.2 1270.5L911.4 1293.6L911.7 1275.3L911.9 1299.2L912.2 1288.5L912.4 1308.2L912.7 1281.3L912.9 1314.4L913.2 1292.2L913.4 1314.3L913.7 1295.1L913.9 1322.5L914.2 1303.3L914.4 1330.1L914.7 1295.0L914.9 1333.4L915.2 1310.6L915.4 1330.8L915.7 1312.0L915.9 1338.8L916.2 1311.4L916.4 1334.7L916.7 1312.1L916.9 1334.2L917.2 1318.8L917.4 1332.0L917.7 1311.2L917.9 1338.7L918.2 1318.7L918.4 1347.4L918.7 1323.4L918.9 1348.5L919.2 1325.0L919.4 1349.2L919.7 1312.3L919.9 1340.4L920.2 1313.0L920.4 1352.0L920.7 1327.8L920.9 1345.3L921.2 1329.5L921.4 1337.7L921.7 1324.6L921.9 1337.3L922.2 1328.8L922.4 1348.4L922.7 1313.2L922.9 1338.4L923.2 1323.1L923.4 1344.2L923.7 1312.6L923.9 1342.3L924.2 1324.3L924.4 1335.6L924.7 1321.8L924.9 1337.5L925.2 1314.6L925.4 1341.4L925.7 1355.2L925.9 1342.6L926.2 1315.4L926.4 1334.1L926.7 1323.8L926.9 1333.9L927.2 1314.5L927.4 1344.1L927.7 1309.4L927.9 1332.7L928.2 1304.1L928.4 1325.3L928.7 1300.4L928.9 1334.3L929.2 1320.4L929.4 1332.8L929.7 1309.2L929.9 1335.9L930.2 1294.9L930.4 1329.1L930.7 1314.2L930.9 1341.0L931.2 1298.4L931.4 1320.8L931.7 1316.0L931.9 1334.1L932.2 1320.4L932.4 1338.1L932.7 1311.2L932.9 1334.4L933.2 1303.1L933.4 1348.0L933.7 1305.4L933.9 1341.2L934.2 1311.2L934.4 1334.9L934.7 1318.8L934.9 1347.0L935.2 1334.0L935.4 1349.8L935.7 1330.7L935.9 1342.0L936.2 1325.5L936.4 1354.7L936.7 1340.2L936.9 1353.5L937.2 1325.2L937.4 1369.1L937.7 1328.6L937.9 1363.7L938.2 1329.3L938.4 1357.5L938.7 1341.3L938.9 1356.6L939.2 1341.5L939.4 1348.2L939.7 1342.2L939.9 1365.2L940.2 1335.0L940.4 1348.6L940.7 1343.2L940.9 1359.4L941.2 1338.3L941.4 1348.6L941.7 1337.3L941.9 1359.5L942.2 1349.9L942.4 1357.8L942.7 1347.5L942.9 1362.3L943.2 1346.8L943.4 1380.6L943.7 1352.9L943.9 1371.0L944.2 1347.5L944.4 1369.0L944.7 1343.4L944.9 1373.5L945.2 1336.6L945.4 1367.9L945.7 1361.7L945.9 1366.6L946.2 1364.4L946.4 1370.2L946.7 1367.7L946.9 1376.6L947.2 1360.5L947.4 1376.2L947.7 1367.4L947.9 1371.5L948.2 1367.2L948.4 1377.1L948.7 1370.1L948.9 1376.2L949.2 1363.9L949.4 1377.1L949.7 1374.9L949.9 1378.2L950.2 1371.5L950.4 1383.7L950.7 1373.5L950.9 1386.2L951.2 1374.4L951.4 1385.3L951.7 1391.4L951.9 1390.8L952.2 1372.5L952.4 1383.6L952.7 1381.1L952.9 1383.2L953.2 1375.9L953.4 1386.1L953.7 1381.4L953.9 1391.3L954.2 1379.1L954.4 1383.1L954.7 1381.6L954.9 1387.7L955.2 1375.7L955.4 1383.8L955.7 1380.6L955.9 1389.1L956.2 1381.2L956.4 1387.8L956.7 1377.7L956.9 1383.9L957.2 1375.6L957.4 1387.0L957.7 1384.4L957.9 1385.4L958.2 1381.1L958.4 1388.0L958.7 1379.0L958.9 1393.3L959.2 1376.7L959.4 1391.8L959.7 1383.2L959.9 1384.2L960.2 1377.8L960.4 1387.9L960.7 1380.2L960.9 1388.0L961.2 1376.4L961.4 1382.3L961.7 1376.7L961.9 1381.4L962.2 1373.3L962.4 1386.2L962.7 1375.8L962.9 1385.8L963.2 1377.4L963.4 1384.8L963.7 1374.3L963.9 1381.5L964.2 1375.2L964.4 1385.6L964.7 1373.5L964.9 1382.8L965.2 1375.3L965.4 1381.1L965.7 1377.4L965.9 1380.1L966.2 1375.5L966.4 1382.9L966.7 1377.7L966.9 1381.9L967.2 1374.3L967.4 1382.9L967.7 1373.3L967.9 1382.1L968.2 1373.9L968.4 1379.4L968.7 1374.4L968.9 1384.2L969.2 1376.5L969.4 1379.5L969.7 1379.4L969.9 1380.4L970.2 1377.8L970.4 1380.9L970.7 1374.5L970.9 1380.8L971.2 1377.3L971.4 1382.2L971.7 1379.3L971.9 1384.7L972.2 1376.4L972.4 1383.1L972.7 1379.2L972.9 1384.1L973.2 1379.2L973.4 1383.4L973.7 1378.4L973.9 1383.9L974.2 1377.0L974.4 1382.0L974.7 1377.5L974.9 1384.7L975.2 1378.1L975.4 1383.1L975.7 1377.3L975.9 1385.2L976.2 1379.0L976.4 1384.2L976.7 1379.3L976.9 1386.7L977.2 1380.3L977.4 1384.5L977.7 1378.5L977.9 1385.2L978.2 1379.7L978.4 1384.1L978.7 1378.9L978.9 1386.6L979.2 1380.6L979.4 1387.5L979.7 1380.0L979.9 1386.6L980.2 1379.7L980.4 1385.4L980.7 1383.8L980.9 1385.9L981.2 1384.0L981.4 1388.1L981.7 1382.1L981.9 1386.3L982.2 1383.8L982.4 1388.6L982.7 1382.7L982.9 1387.3L983.2 1381.2L983.4 1388.8L983.7 1383.6L983.9 1389.6L984.2 1384.5L984.4 1387.9L984.7 1383.2L984.9 1389.9L985.2 1384.7L985.4 1388.8L985.7 1382.5L985.9 1387.3L986.2 1383.7L986.4 1387.7L986.7 1382.7L986.9 1388.2L987.2 1384.5L987.4 1386.4L987.7 1382.4L987.9 1388.3L988.2 1382.7L988.4 1390.0L988.7 1384.6L988.9 1390.1L989.2 1384.4L989.4 1389.6L989.7 1386.9L989.9 1389.9L990.2 1383.8L990.4 1387.5L990.7 1386.6L990.9 1389.7L991.2 1383.8L991.4 1388.7L991.7 1386.0L991.9 1387.0L992.2 1384.8L992.4 1388.7L992.7 1382.0L992.9 1389.3L993.2 1382.2L993.4 1390.6L993.7 1386.1L993.9 1390.1L994.2 1384.5L994.4 1390.8L994.7 1380.6L994.9 1389.8L995.2 1384.7L995.4 1392.0L995.7 1383.3L995.9 1390.8L996.2 1385.1L996.4 1390.0L996.7 1384.7L996.9 1392.5L997.2 1383.6L997.4 1392.3L997.7 1387.3L997.9 1388.8L998.2 1385.2L998.4 1390.7L998.7 1382.7L998.9 1392.5L999.2 1385.7L999.4 1390.8L999.7 1386.9L999.9 1391.9L1000.2 1385.7L1000.4 1395.1L1000.7 1388.4L1000.9 1393.6L1001.2 1386.2L1001.4 1392.6L1001.7 1385.8L1001.9 1393.6L1002.2 1389.5L1002.4 1393.9L1002.7 1389.4L1002.9 1392.5L1003.2 1390.2L1003.4 1392.3L1003.7 1389.5L1003.9 1391.5L1004.2 1390.0L1004.4 1392.6L1004.7 1391.2L1004.9 1393.0L1005.2 1390.3L1005.4 1392.7L1005.7 1390.5L1005.9 1392.5L1006.2 1391.8L1006.4 1394.0L1006.7 1390.1L1006.9 1393.3L1007.2 1390.5L1007.4 1393.6L1007.7 1392.9L1007.9 1395.8L1008.2 1391.5L1008.4 1393.9L1008.7 1392.9L1008.9 1395.0L1009.2 1392.7L1009.4 1394.1L1009.7 1393.6L1009.9 1394.9L1010.2 1390.9L1010.4 1394.0L1010.7 1393.2L1010.9 1394.2L1011.2 1391.0L1011.4 1397.0L1011.7 1392.4L1011.9 1397.0L1012.2 1394.0L1012.4 1395.9L1012.7 1391.9L1012.9 1397.1L1013.2 1393.2L1013.4 1394.9L1013.7 1392.4L1013.9 1397.3L1014.2 1394.7L1014.4 1396.9L1014.7 1393.2L1014.9 1396.3L1015.2 1393.8L1015.4 1396.3L1015.7 1392.1L1015.9 1395.7L1016.2 1395.0L1016.4 1396.3L1016.7 1393.7L1016.9 1396.6L1017.2 1394.8L1017.4 1397.6L1017.7 1393.9L1017.9 1396.3L1018.2 1395.2L1018.4 1396.6L1018.7 1394.6L1018.9 1398.4L1019.2 1393.1L1019.4 1397.0L1019.7 1393.2L1019.9 1396.8L1020.2 1395.1L1020.4 1397.9L1020.7 1394.9L1020.9 1397.4L1021.2 1395.3L1021.4 1398.1L1021.7 1396.3L1021.9 1397.6L1022.2 1394.8L1022.4 1398.3L1022.7 1395.7L1022.9 1398.3L1023.2 1394.4L1023.4 1399.4L1023.7 1395.5L1023.9 1397.7L1024.2 1396.3L1024.4 1398.8L1024.7 1396.5L1024.9 1399.2L1025.2 1396.4L1025.4 1397.4L1025.7 1396.9L1025.9 1398.3L1026.2 1396.0L1026.4 1399.0L1026.7 1396.5L1026.9 1400.0L1027.2 1397.1"/>
<path class="b" d="M699.8 1400.0L700.0 1402.0L700.2 1400.9L700.4 1401.2L700.6 1400.0L700.8 1401.1L701.0 1400.6L701.2 1402.0L701.4 1400.4L701.6 1401.8L701.8 1400.5L702.0 1402.0L702.2 1400.2L702.4 1401.5L702.6 1400.1L702.8 1402.0L703.0 1400.6L703.2 1402.0L703.4 1400.8L703.6 1402.0L703.8 1401.0L704.0 1402.0L704.2 1401.0L704.4 1401.6L704.6 1400.1L704.8 1401.6L705.0 1401.0L705.2 1402.0L705.4 1400.3L705.6 1402.0L705.8 1400.0L706.0 1401.7L706.2 1400.0L706.4 1401.9L706.6 1400.2L706.8 1401.8L707.0 1400.3L707.2 1401.6L707.4 1400.0L707.6 1402.0L707.8 1400.7L708.0 1402.0L708.2 1400.8L708.4 1401.7L708.6 1400.0L708.8 1402.0L709.0 1400.9L709.2 1401.5L709.4 1400.9L709.6 1401.9L709.8 1400.3L710.0 1401.5L710.2 1400.1L710.4 1401.4L710.6 1400.8L710.8 1401.1L711.0 1400.1L711.2 1401.7L711.4 1400.9L711.6 1401.2L711.8 1400.5L712.0 1401.9L712.2 1400.1L712.4 1402.0L712.6 1400.6L712.8 1402.0L713.0 1400.0L713.2 1401.8L713.4 1400.3L713.6 1401.7L713.8 1400.8L714.0 1401.9L714.2 1400.0L714.4 1402.0L714.6 1400.4L714.8 1402.0L715.0 1400.7L715.2 1401.7L715.4 1400.8L715.6 1401.9L715.8 1400.1L716.0 1402.0L716.2 1400.4L716.4 1401.3L716.6 1401.0L716.8 1401.8L717.0 1400.7L717.2 1402.0L717.4 1400.3L717.6 1401.9L717.8 1401.0L718.0 1401.7L718.2 1400.4L718.4 1402.0L718.6 1400.2L718.8 1401.3L719.0 1400.3L719.2 1401.5L719.4 1400.6L719.6 1401.5L719.8 1400.3L720.0 1402.0L720.2 1400.4L720.4 1401.6L720.6 1400.2L720.8 1401.7L721.0 1400.5L721.2 1401.8L721.4 1400.2L721.6 1401.9L721.8 1400.8L722.0 1401.4L722.2 1400.3L722.4 1401.5L722.6 1400.8L722.8 1401.3L723.0 1400.8L723.2 1401.1L723.4 1400.9L723.6 1401.8L723.8 1400.1L724.0 1401.1L724.2 1400.4L724.4 1401.6L724.6 1400.7L724.8 1401.5L725.0 1400.5L725.2 1401.9L725.4 1400.6L725.6 1401.7L725.8 1400.7L726.0 1402.0L726.2 1400.4L726.4 1402.0L726.6 1402.0L726.8 1402.0L727.0 1399.8L727.2 1402.0L727.4 1398.8L727.6 1402.0L727.8 1398.3L728.0 1401.7L728.2 1398.1L728.4 1401.3L728.6 1397.3L728.8 1402.0L729.0 1397.2L729.2 1401.7L729.4 1402.0L729.6 1401.7L729.8 1395.8L730.0 1401.8L730.2 1397.1L730.4 1401.0L730.6 1398.5L730.8 1401.3L731.0 1397.8L731.2 1401.4L731.4 1395.5L731.6 1400.8L731.8 1398.1L732.0 1400.5L732.2 1395.8L732.4 1401.4L732.6 1395.0L732.8 1400.4L733.0 1394.7L733.2 1398.5L733.4 1394.7L733.6 1401.0L733.8 1393.7L734.0 1400.6L734.2 1396.2L734.4 1399.6L734.6 1392.1L734.8 1399.9L735.0 1392.1L735.2 1395.5L735.4 1392.0L735.6 1399.6L735.8 1389.6L736.0 1399.6L736.2 1389.9L736.4 1396.5L736.6 1388.1L736.8 1399.9L737.0 1393.3L737.2 1399.8L737.4 1388.4L737.6 1393.5L737.8 1388.2L738.0 1398.5L738.2 1390.1L738.4 1396.1L738.6 1386.4L738.8 1398.7L739.0 1388.6L739.2 1398.4L739.4 1388.2L739.6 1398.0L739.8 1389.5L740.0 1398.3L740.2 1385.6L740.4 1392.4L740.6 1389.9L740.8 1397.7L741.0 1388.3L741.2 1395.4L741.4 1387.1L741.6 1395.6L741.8 1388.2L742.0 1395.7L742.2 1387.0L742.4 1380.0L742.6 1386.4L742.8 1390.9L743.0 1385.2L743.2 1395.8L743.4 1386.0L743.6 1396.2L743.8 1383.4L744.0 1395.0L744.2 1382.2L744.4 1394.3L744.6 1386.4L744.8 1396.4L745.0 1386.6L745.2 1380.0L745.4 1380.3L745.6 1389.0L745.8 1388.7L746.0 1397.0L746.2 1387.5L746.4 1394.4L746.6 1388.7L746.8 1397.2L747.0 1383.4L747.2 1397.3L747.4 1386.2L747.6 1397.4L747.8 1386.6L748.0 1397.6L748.2 1384.9L748.4 1397.7L748.6 1386.7L748.8 1392.5L749.0 1383.9L749.2 1397.6L749.4 1387.1L749.6 1391.7L749.8 1385.0L750.0 1395.3L750.2 1382.9L750.4 1397.4L750.6 1389.4L750.8 1396.5L751.0 1382.9L751.2 1399.2L751.4 1387.3L751.6 1399.8L751.8 1380.0L752.0 1400.0L752.2 1383.3L752.4 1397.1L752.6 1384.8L752.8 1400.0L753.0 1387.2L753.2 1399.8L753.4 1400.0L753.6 1399.4L753.8 1391.6L754.0 1396.7L754.2 1386.3L754.4 1393.4L754.6 1389.9L754.8 1399.3L755.0 1391.9L755.2 1394.8L755.4 1385.3L755.6 1398.5L755.8 1385.4L756.0 1396.6L756.2 1385.8L756.4 1383.3L756.6 1389.5L756.8 1394.2L757.0 1386.5L757.2 1397.1L757.4 1387.9L757.6 1395.1L757.8 1386.7L758.0 1398.4L758.2 1385.7L758.4 1393.3L758.6 1387.8L758.8 1398.2L759.0 1387.9L759.2 1396.2L759.4 1387.9L759.6 1398.0L759.8 1386.6L760.0 1397.3L760.2 1386.8L760.4 1397.5L760.6 1384.8L760.8 1397.1L761.0 1383.8L761.2 1395.6L761.4 1381.0L761.6 1395.9L761.8 1387.4L762.0 1393.0L762.2 1381.9L762.4 1395.9L762.6 1382.8L762.8 1392.0L763.0 1382.5L763.2 1395.1L763.4 1375.2L763.6 1395.2L763.8 1378.0L764.0 1394.3L764.2 1376.7L764.4 1394.6L764.6 1381.0L764.8 1394.8L765.0 1375.2L765.2 1385.5L765.4 1379.3L765.6 1384.3L765.8 1372.3L766.0 1372.0L766.2 1376.2L766.4 1392.4L766.6 1384.0L766.8 1394.4L767.0 1374.8L767.2 1387.5L767.4 1379.5L767.6 1395.7L767.8 1377.9L768.0 1395.0L768.2 1377.4L768.4 1395.2L768.6 1380.3L768.8 1396.4L769.0 1387.5L769.2 1395.2L769.4 1382.7L769.6 1397.2L769.8 1382.6L770.0 1395.9L770.2 1388.8L770.4 1392.6L770.6 1383.2L770.8 1397.0L771.0 1386.1L771.2 1398.5L771.4 1387.9L771.6 1393.3L771.8 1385.9L772.0 1400.0L772.2 1385.0L772.4 1399.6L772.6 1383.8L772.8 1394.9L773.0 1385.1L773.2 1400.0L773.4 1384.3L773.6 1398.9L773.8 1386.9L774.0 1400.0L774.2 1387.9L774.4 1399.8L774.6 1383.7L774.8 1400.0L775.0 1384.6L775.2 1395.4L775.4 1385.7L775.6 1396.7L775.8 1380.7L776.0 1400.0L776.2 1388.2L776.4 1391.4L776.6 1387.3L776.8 1399.6L777.0 1388.2L777.2 1399.9L777.4 1381.0L777.6 1399.7L777.8 1386.7L778.0 1400.0L778.2 1387.7L778.4 1400.0L778.6 1400.0L778.8 1399.0L779.0 1386.6L779.2 1396.2L779.4 1376.6L779.6 1398.5L779.8 1375.4L780.0 1370.0L780.2 1381.9L780.4 1399.2L780.6 1378.0L780.8 1393.4L781.0 1377.6L781.2 1391.7L781.4 1374.7L781.6 1389.0L781.8 1379.6L782.0 1397.3L782.2 1384.2L782.4 1396.4L782.6 1387.4L782.8 1398.8L783.0 1385.7L783.2 1399.0L783.4 1388.1L783.6 1396.5L783.8 1382.4L784.0 1398.4L784.2 1380.1L784.4 1399.4L784.6 1384.0L784.8 1394.7L785.0 1381.1L785.2 1399.5L785.4 1400.0L785.6 1391.3L785.8 1381.4L786.0 1398.0L786.2 1382.2L786.4 1397.1L786.6 1370.7L786.8 1390.0L787.0 1379.3L787.2 1386.7L787.4 1367.5L787.6 1383.2L787.8 1370.1L788.0 1391.9L788.2 1358.5L788.4 1387.6L788.6 1358.5L788.8 1390.0L789.0 1354.2L789.2 1388.2L789.4 1359.4L789.6 1386.8L789.8 1368.4L790.0 1348.0L790.2 1361.3L790.4 1384.1L790.6 1365.6L790.8 1384.0L791.0 1365.1L791.2 1389.1L791.4 1357.3L791.6 1389.5L791.8 1367.4L792.0 1384.9L792.2 1365.3L792.4 1391.9L792.6 1373.3L792.8 1385.9L793.0 1373.1L793.2 1382.5L793.4 1373.9L793.6 1387.5L793.8 1373.2L794.0 1392.2L794.2 1378.6L794.4 1381.6L794.6 1373.2L794.8 1396.4L795.0 1371.3L795.2 1391.8L795.4 1380.3L795.6 1393.2L795.8 1372.2L796.0 1392.0L796.2 1375.0L796.4 1396.8L796.6 1380.9L796.8 1397.5L797.0 1371.1L797.2 1386.8L797.4 1369.9L797.6 1390.7L797.8 1370.8L798.0 1394.9L798.2 1380.6L798.4 1391.9L798.6 1398.7L798.8 1395.0L799.0 1380.7L799.2 1396.7L799.4 1374.4L799.6 1396.4L799.8 1364.9L800.0 1392.2L800.2 1372.2L800.4 1395.0L800.6 1371.0L800.8 1388.1L801.0 1372.4L801.2 1391.1L801.4 1373.7L801.6 1392.1L801.8 1373.3L802.0 1378.7L802.2 1362.0L802.4 1380.9L802.6 1365.4L802.8 1390.4L803.0 1359.9L803.2 1389.7L803.4 1366.0L803.6 1380.7L803.8 1366.9L804.0 1378.3L804.2 1365.1L804.4 1371.8L804.6 1362.1L804.8 1385.8L805.0 1352.1L805.2 1384.5L805.4 1354.9L805.6 1377.1L805.8 1348.0L806.0 1382.0L806.2 1357.4L806.4 1384.7L806.6 1359.4L806.8 1379.0L807.0 1358.4L807.2 1371.3L807.4 1352.4L807.6 1379.9L807.8 1356.7L808.0 1386.0L808.2 1358.6L808.4 1375.3L808.6 1390.0L808.8 1386.6L809.0 1366.1L809.2 1385.0L809.4 1359.5L809.6 1378.0L809.8 1363.7L810.0 1386.6L810.2 1359.8L810.4 1388.0L810.6 1360.9L810.8 1385.3L811.0 1372.7L811.2 1386.0L811.4 1371.3L811.6 1386.0L811.8 1368.4L812.0 1378.9L812.2 1359.9L812.4 1386.2L812.6 1360.3L812.8 1383.3L813.0 1353.1L813.2 1370.2L813.4 1357.9L813.6 1386.1L813.8 1353.9L814.0 1378.7L814.2 1357.5L814.4 1383.7L814.6 1362.4L814.8 1380.1L815.0 1364.5L815.2 1378.7L815.4 1348.3L815.6 1374.7L815.8 1353.8L816.0 1372.5L816.2 1363.5L816.4 1365.1L816.6 1359.4L816.8 1382.7L817.0 1358.8L817.2 1364.5L817.4 1362.5L817.6 1379.6L817.8 1345.9L818.0 1380.4L818.2 1352.8L818.4 1380.5L818.6 1346.2L818.8 1376.7L819.0 1353.0L819.2 1375.9L819.4 1329.9L819.6 1352.9L819.8 1338.3L820.0 1370.8L820.2 1343.5L820.4 1318.7L820.6 1322.0L820.8 1369.1L821.0 1337.2L821.2 1357.6L821.4 1321.5L821.6 1347.6L821.8 1336.8L822.0 1374.7L822.2 1335.4L822.4 1374.0L822.6 1330.7L822.8 1350.8L823.0 1324.1L823.2 1377.9L823.4 1379.3L823.6 1376.9L823.8 1329.2L824.0 1375.2L824.2 1337.2L824.4 1368.0L824.6 1330.7L824.8 1371.3L825.0 1326.1L825.2 1366.8L825.4 1320.6L825.6 1366.2L825.8 1322.2L826.0 1343.2L826.2 1318.9L826.4 1310.0L826.6 1335.4L826.8 1339.2L827.0 1319.8L827.2 1344.8L827.4 1317.5L827.6 1356.2L827.8 1330.6L828.0 1349.3L828.2 1327.5L828.4 1356.0L828.6 1326.7L828.8 1368.6L829.0 1338.9L829.2 1371.1L829.4 1330.7L829.6 1374.3L829.8 1334.8L830.0 1376.7L830.2 1335.0L830.4 1364.3L830.6 1332.4L830.8 1366.9L831.0 1333.0L831.2 1372.7L831.4 1327.7L831.6 1369.3L831.8 1343.0L832.0 1371.4L832.2 1318.4L832.4 1364.3L832.6 1315.3L832.8 1352.5L833.0 1324.8L833.2 1368.8L833.4 1325.6L833.6 1354.9L833.8 1324.2L834.0 1366.3L834.2 1334.0L834.4 1366.0L834.6 1322.6L834.8 1365.1L835.0 1312.9L835.2 1339.9L835.4 1320.8L835.6 1353.1L835.8 1324.6L836.0 1347.2L836.2 1303.1L836.4 1363.3L836.6 1319.7L836.8 1336.6L837.0 1307.9L837.2 1361.9L837.4 1300.1L837.6 1361.6L837.8 1293.8L838.0 1361.9L838.2 1303.5L838.4 1349.4L838.6 1294.1L838.8 1355.1L839.0 1311.7L839.2 1351.8L839.4 1320.2L839.6 1359.2L839.8 1302.2L840.0 1331.6L840.2 1303.6L840.4 1284.5L840.6 1313.0L840.8 1358.4L841.0 1289.0L841.2 1357.7L841.4 1319.5L841.6 1349.5L841.8 1310.2L842.0 1361.1L842.2 1316.4L842.4 1361.5L842.6 1312.0L842.8 1353.0L843.0 1294.2L843.2 1359.2L843.4 1314.3L843.6 1361.5L843.8 1307.4L844.0 1363.0L844.2 1298.6L844.4 1359.9L844.6 1326.1L844.8 1362.2L845.0 1304.2L845.2 1346.5L845.4 1329.0L845.6 1364.4L845.8 1312.8L846.0 1364.8L846.2 1317.7L846.4 1365.0L846.6 1315.9L846.8 1337.7L847.0 1314.4L847.2 1349.1L847.4 1303.9L847.6 1366.0L847.8 1333.3L848.0 1362.3L848.2 1308.2L848.4 1336.2L848.6 1313.1L848.8 1360.8L849.0 1331.0L849.2 1356.8L849.4 1331.1L849.6 1348.0L849.8 1316.6L850.0 1368.0L850.2 1332.1L850.4 1363.9L850.6 1331.4L850.8 1362.7L851.0 1308.3L851.2 1367.9L851.4 1300.7L851.6 1369.1L851.8 1304.1L852.0 1354.9L852.2 1324.2L852.4 1335.0L852.6 1304.6L852.8 1367.5L853.0 1314.4L853.2 1345.1L853.4 1306.0L853.6 1366.7L853.8 1319.2L854.0 1364.0L854.2 1303.8L854.4 1365.8L854.6 1325.9L854.8 1357.2L855.0 1321.6L855.2 1343.2L855.4 1331.5L855.6 1362.8L855.8 1329.9L856.0 1360.8L856.2 1312.8L856.4 1362.6L856.6 1317.7L856.8 1346.6L857.0 1295.2L857.2 1357.8L857.4 1319.5L857.6 1354.2L857.8 1316.2L858.0 1354.2L858.2 1309.2L858.4 1339.6L858.6 1301.7L858.8 1353.0L859.0 1294.0L859.2 1330.8L859.4 1302.6L859.6 1350.3L859.8 1289.6L860.0 1348.5L860.2 1274.0L860.4 1320.8L860.6 1274.4L860.8 1333.1L861.0 1279.0L861.2 1345.0L861.4 1273.8L861.6 1331.1L861.8 1285.4L862.0 1337.1L862.2 1278.3L862.4 1324.9L862.6 1274.9L862.8 1322.6L863.0 1276.9L863.2 1341.8L863.4 1268.8L863.6 1340.7L863.8 1261.2L864.0 1319.4L864.2 1261.7L864.4 1334.2L864.6 1289.1L864.8 1330.5L865.0 1257.6L865.2 1316.8L865.4 1279.2L865.6 1324.9L865.8 1282.5L866.0 1324.1L866.2 1254.9L866.4 1296.0L866.6 1259.7L866.8 1332.4L867.0 1255.6L867.2 1334.6L867.4 1258.9L867.6 1329.2L867.8 1261.1L868.0 1329.7L868.2 1255.4L868.4 1301.8L868.6 1276.4L868.8 1328.3L869.0 1265.1L869.2 1332.1L869.4 1264.5L869.6 1314.8L869.8 1282.5L870.0 1309.7L870.2 1282.3L870.4 1306.9L870.6 1260.6L870.8 1315.1L871.0 1281.6L871.2 1323.9L871.4 1248.3L871.6 1327.6L871.8 1267.6L872.0 1327.8L872.2 1258.1L872.4 1324.3L872.6 1236.3L872.8 1323.8L873.0 1235.3L873.2 1327.1L873.4 1232.7L873.6 1326.5L873.8 1224.8L874.0 1280.0L874.2 1263.6L874.4 1282.4L874.6 1221.4L874.8 1325.2L875.0 1216.1L875.2 1299.5L875.4 1242.9L875.6 1321.4L875.8 1272.5L876.0 1319.9L876.2 1236.0L876.4 1326.5L876.6 1273.8L876.8 1332.9L877.0 1277.0L877.2 1327.3L877.4 1250.9L877.6 1326.9L877.8 1250.4L878.0 1337.1L878.2 1263.7L878.4 1320.1L878.6 1267.4L878.8 1346.1L879.0 1280.7L879.2 1334.3L879.4 1301.5L879.6 1349.1L879.8 1282.7L880.0 1344.3L880.2 1268.4L880.4 1344.9L880.6 1266.3L880.8 1350.3L881.0 1274.8L881.2 1350.2L881.4 1305.5L881.6 1353.0L881.8 1278.3L882.0 1353.9L882.2 1278.7L882.4 1337.9L882.6 1284.5L882.8 1355.2L883.0 1274.2L883.2 1344.2L883.4 1296.3L883.6 1346.1L883.8 1263.2L884.0 1315.4L884.2 1268.7L884.4 1332.2L884.6 1282.5L884.8 1331.0L885.0 1267.9L885.2 1329.3L885.4 1251.5L885.6 1324.9L885.8 1272.0L886.0 1324.0L886.2 1252.0L886.4 1324.2L886.6 1239.0L886.8 1321.6L887.0 1218.1L887.2 1277.0L887.4 1211.9L887.6 1298.9L887.8 1217.3L888.0 1313.1L888.2 1222.3L888.4 1306.8L888.6 1232.5L888.8 1269.4L889.0 1238.3L889.2 1266.8L889.4 1194.4L889.6 1299.0L889.8 1216.3L890.0 1255.7L890.2 1196.3L890.4 1244.7L890.6 1230.2L890.8 1172.1L891.0 1234.9L891.2 1265.7L891.4 1219.8L891.6 1289.8L891.8 1194.2L892.0 1248.8L892.2 1209.9L892.4 1275.3L892.6 1216.1L892.8 1282.0L893.0 1214.6L893.2 1263.0L893.4 1234.0L893.6 1279.1L893.8 1234.8L894.0 1259.4L894.2 1245.4L894.4 1279.3L894.6 1236.0L894.8 1252.1L895.0 1216.3L895.2 1272.2L895.4 1225.6L895.6 1268.6L895.8 1237.3L896.0 1264.6L896.2 1215.9L896.4 1261.2L896.6 1204.7L896.8 1255.7L897.0 1202.4L897.2 1253.2L897.4 1222.1L897.6 1225.8L897.8 1209.2L898.0 1245.7L898.2 1163.8L898.4 1244.9L898.6 1141.1L898.8 1232.7L899.0 1110.3L899.2 1193.4L899.4 1149.2L899.6 1201.1L899.8 1140.4L900.0 1049.7L900.2 1100.7L900.4 1235.3L900.6 1079.4L900.8 1233.2L901.0 1074.5L901.2 1225.5L901.4 1151.1L901.6 1183.1L901.8 1137.0L902.0 1224.6L902.2 1116.9L902.4 1206.5L902.6 1154.4L902.8 1222.6L903.0 1116.4L903.2 1210.2L903.4 1125.5L903.6 1221.5L903.8 1130.9L904.0 1205.8L904.2 1153.0L904.4 1201.9L904.6 1140.6L904.8 1222.1L905.0 1161.7L905.2 1203.5L905.4 1161.6L905.6 1209.7L905.8 1173.4L906.0 1219.9L906.2 1161.9L906.4 1219.8L906.6 1170.2L906.8 1213.4L907.0 1158.1L907.2 1216.9L907.4 1156.7L907.6 1203.7L907.8 1143.0L908.0 1211.2L908.2 1152.8L908.4 1217.0L908.6 1142.4L908.8 1216.0L909.0 1124.3L909.2 1216.2L909.4 1139.0L909.6 1216.5L909.8 1124.7L910.0 1211.6L910.2 1158.1L910.4 1213.4L910.6 1142.7L910.8 1217.8L911.0 1113.1L911.2 1174.1L911.4 1122.1L911.6 1209.1L911.8 1122.0L912.0 1196.5L912.2 1135.5L912.4 1206.0L912.6 1136.9L912.8 1200.6L913.0 1087.2L913.2 1196.1L913.4 1081.7L913.6 1215.4L913.8 1125.4L914.0 1197.8L914.2 1153.0L914.4 1196.2L914.6 1141.7L914.8 1205.7L915.0 1141.3L915.2 1196.3L915.4 1125.2L915.6 1214.0L915.8 1157.5L916.0 1217.7L916.2 1174.3L916.4 1215.5L916.6 1178.6L916.8 1209.1L917.0 1177.7L917.2 1206.4L917.4 1159.5L917.6 1207.8L917.8 1173.4L918.0 1233.4L918.2 1157.5L918.4 1191.3L918.6 1122.3L918.8 1250.3L919.0 1153.9L919.2 1202.4L919.4 1181.6L919.6 1227.0L919.8 1174.9L920.0 1241.4L920.2 1201.0L920.4 1215.4L920.6 1187.5L920.8 1247.5L921.0 1198.1L921.2 1227.5L921.4 1195.0L921.6 1269.0L921.8 1198.4L922.0 1270.2L922.2 1206.7L922.4 1275.3L922.6 1222.9L922.8 1249.6L923.0 1215.8L923.2 1284.6L923.4 1211.9L923.6 1290.6L923.8 1203.6L924.0 1270.6L924.2 1245.1L924.4 1298.9L924.6 1211.2L924.8 1296.9L925.0 1203.7L925.2 1308.0L925.4 1205.4L925.6 1313.5L925.8 1218.0L926.0 1299.0L926.2 1242.5L926.4 1257.8L926.6 1188.7L926.8 1301.8L927.0 1182.8L927.2 1245.9L927.4 1221.4L927.6 1267.8L927.8 1173.8L928.0 1295.2L928.2 1229.5L928.4 1303.2L928.6 1232.8L928.8 1298.8L929.0 1163.3L929.2 1284.8L929.4 1179.7L929.6 1229.8L929.8 1173.9L930.0 1248.7L930.2 1149.5L930.4 1282.9L930.6 1141.4L930.8 1254.5L931.0 1155.5L931.2 1114.2L931.4 1152.6L931.6 1274.3L931.8 1127.1L932.0 1271.2L932.2 1135.4L932.4 1278.2L932.6 1156.4L932.8 1275.2L933.0 1163.6L933.2 1280.2L933.4 1164.9L933.6 1247.0L933.8 1203.9L934.0 1272.5L934.2 1181.9L934.4 1252.9L934.6 1224.8L934.8 1300.0L935.0 1239.0L935.2 1307.3L935.4 1202.0L935.6 1298.6L935.8 1198.7L936.0 1265.9L936.2 1244.3L936.4 1280.1L936.6 1195.0L936.8 1271.5L937.0 1215.3L937.2 1314.3L937.4 1251.5L937.6 1265.1L937.8 1240.8L938.0 1290.7L938.2 1189.2L938.4 1298.9L938.6 1247.0L938.8 1324.5L939.0 1204.5L939.2 1324.7L939.4 1196.1L939.6 1320.1L939.8 1198.4L940.0 1264.3L940.2 1222.0L940.4 1266.8L940.6 1183.9L940.8 1328.0L941.0 1192.6L941.2 1292.7L941.4 1222.9L941.6 1296.7L941.8 1181.4L942.0 1329.7L942.2 1194.8L942.4 1265.7L942.6 1255.2L942.8 1312.6L943.0 1216.0L943.2 1306.6L943.4 1213.6L943.6 1275.5L943.8 1208.4L944.0 1331.2L944.2 1244.8L944.4 1337.8L944.6 1223.3L944.8 1336.7L945.0 1237.9L945.2 1206.9L945.4 1357.5L945.6 1310.5L945.8 1282.7L946.0 1318.6L946.2 1271.0L946.4 1325.2L946.6 1244.4L946.8 1321.5L947.0 1250.8L947.2 1315.3L947.4 1210.6L947.6 1292.7L947.8 1217.0L948.0 1287.0L948.2 1242.8L948.4 1302.0L948.6 1241.5L948.8 1286.3L949.0 1217.7L949.2 1257.8L949.4 1215.2L949.6 1303.5L949.8 1230.3L950.0 1286.4L950.2 1223.4L950.4 1304.0L950.6 1195.8L950.8 1284.9L951.0 1204.3L951.2 1285.9L951.4 1190.3L951.6 1309.7L951.8 1211.3L952.0 1247.1L952.2 1175.2L952.4 1311.8L952.6 1209.2L952.8 1300.0L953.0 1206.4L953.2 1293.3L953.4 1199.2L953.6 1295.4L953.8 1238.2L954.0 1291.4L954.2 1232.8L954.4 1302.9L954.6 1244.8L954.8 1301.3L955.0 1254.3L955.2 1290.9L955.4 1252.9L955.6 1307.5L955.8 1263.8L956.0 1327.7L956.2 1283.1L956.4 1349.1L956.6 1320.7L956.8 1337.8L957.0 1305.8L957.2 1370.4L957.4 1319.6L957.6 1375.8L957.8 1319.0L958.0 1347.6L958.2 1322.0L958.4 1366.4L958.6 1324.3L958.8 1379.4L959.0 1332.2L959.2 1381.2L959.4 1321.5L959.6 1369.9L959.8 1342.6L960.0 1366.3L960.2 1340.0L960.4 1371.1L960.6 1382.4L960.8 1361.6L961.0 1329.3L961.2 1359.5L961.4 1345.8L961.6 1358.4L961.8 1331.2L962.0 1369.3L962.2 1330.4L962.4 1338.0L962.6 1310.7L962.8 1361.7L963.0 1312.9L963.2 1333.2L963.4 1284.0L963.6 1318.0L963.8 1286.7L964.0 1343.8L964.2 1266.3L964.4 1299.2L964.6 1253.9L964.8 1302.0L965.0 1266.6L965.2 1305.2L965.4 1267.5L965.6 1315.9L965.8 1239.2L966.0 1293.1L966.2 1204.3L966.4 1280.0L966.6 1188.0L966.8 1282.4L967.0 1189.9L967.2 1281.0L967.4 1200.5L967.6 1272.2L967.8 1196.5L968.0 1241.1L968.2 1191.1L968.4 1251.3L968.6 1199.7L968.8 1257.3L969.0 1196.9L969.2 1251.6L969.4 1193.2L969.6 1212.5L969.8 1145.3L970.0 1246.3L970.2 1188.0L970.4 1245.6L970.6 1170.1L970.8 1218.8L971.0 1186.2L971.2 1219.9L971.4 1220.5L971.6 1271.2L971.8 1213.6L972.0 1267.3L972.2 1218.0L972.4 1265.2L972.6 1206.3L972.8 1270.0L973.0 1222.1L973.2 1280.9L973.4 1249.3L973.6 1283.9L973.8 1235.2L974.0 1266.2L974.2 1252.4L974.4 1274.7L974.6 1270.4L974.8 1298.1L975.0 1267.9L975.2 1303.9L975.4 1270.7L975.6 1306.0L975.8 1275.8L976.0 1314.6L976.2 1275.4L976.4 1319.5L976.6 1286.9L976.8 1312.2L977.0 1284.0L977.2 1308.0L977.4 1304.6L977.6 1312.7L977.8 1294.2L978.0 1333.2L978.2 1297.8L978.4 1326.6L978.6 1294.7L978.8 1331.5L979.0 1298.0L979.2 1345.5L979.4 1299.4L979.6 1342.0L979.8 1290.4L980.0 1329.7L980.2 1321.4L980.4 1343.3L980.6 1311.4L980.8 1339.7L981.0 1309.9L981.2 1332.8L981.4 1315.6L981.6 1356.5L981.8 1321.7L982.0 1336.5L982.2 1334.1L982.4 1338.1L982.6 1313.4L982.8 1358.8L983.0 1334.0L983.2 1360.4L983.4 1321.3L983.6 1361.8L983.8 1325.5L984.0 1362.4L984.2 1327.6L984.4 1363.4L984.6 1341.6L984.8 1350.9L985.0 1340.4L985.2 1364.4L985.4 1335.5L985.6 1364.1L985.8 1346.4L986.0 1356.4L986.2 1341.7L986.4 1367.1L986.6 1341.7L986.8 1367.8L987.0 1337.1L987.2 1366.6L987.4 1341.1L987.6 1365.2L987.8 1341.5L988.0 1369.0L988.2 1343.5L988.4 1373.8L988.6 1354.3L988.8 1364.8L989.0 1356.6L989.2 1374.5L989.4 1359.2L989.6 1376.8L989.8 1361.8L990.0 1379.8L990.2 1369.2L990.4 1382.4L990.6 1363.9L990.8 1382.2L991.0 1365.8L991.2 1385.1L991.4 1371.0L991.6 1386.9L991.8 1371.3L992.0 1385.3L992.2 1369.4L992.4 1381.6L992.6 1369.7L992.8 1392.3L993.0 1374.9L993.2 1393.5L993.4 1373.0L993.6 1394.8L993.8 1374.2L994.0 1394.8L994.2 1376.3L994.4 1386.6L994.6 1377.9L994.8 1396.6L995.0 1388.0L995.2 1391.0L995.4 1385.5L995.6 1398.2L995.8 1399.6L996.0 1399.5L996.2 1390.3L996.4 1396.3L996.6 1382.2L996.8 1390.9L997.0 1388.6L997.2 1398.0L997.4 1387.5L997.6 1397.6L997.8 1383.8L998.0 1392.1L998.2 1388.9L998.4 1398.6L998.6 1384.7L998.8 1397.5L999.0 1387.0L999.2 1394.6L999.4 1389.3L999.6 1397.0L999.8 1387.1L1000.0 1396.6L1000.2 1385.9L1000.4 1391.4L1000.6 1389.2L1000.8 1394.7L1001.0 1389.2L1001.2 1391.8L1001.4 1388.9L1001.6 1393.6L1001.8 1382.8L1002.0 1393.3L1002.2 1385.1L1002.4 1387.9L1002.6 1377.8L1002.8 1392.6L1003.0 1375.3L1003.2 1390.2L1003.4 1373.6L1003.6 1390.1L1003.8 1369.7L1004.0 1390.4L1004.2 1374.8L1004.4 1389.8L1004.6 1374.5L1004.8 1385.4L1005.0 1371.7L1005.2 1385.8L1005.4 1372.5L1005.6 1387.1L1005.8 1376.3L1006.0 1381.7L1006.2 1371.7L1006.4 1385.7L1006.6 1370.1L1006.8 1377.2L1007.0 1370.8L1007.2 1378.4L1007.4 1373.7L1007.6 1383.9L1007.8 1368.6L1008.0 1383.6L1008.2 1366.0L1008.4 1383.1L1008.6 1366.9L1008.8 1373.5L1009.0 1370.2L1009.2 1381.5L1009.4 1366.2L1009.6 1372.7L1009.8 1360.3L1010.0 1374.5L1010.2 1354.3L1010.4 1379.4L1010.6 1355.8L1010.8 1368.4L1011.0 1354.9L1011.2 1378.5L1011.4 1359.3L1011.6 1378.5L1011.8 1355.7L1012.0 1377.3L1012.2 1362.8L1012.4 1373.8L1012.6 1360.1L1012.8 1375.9L1013.0 1355.1L1013.2 1371.4L1013.4 1354.5L1013.6 1369.8L1013.8 1357.8L1014.0 1369.7L1014.2 1352.8L1014.4 1374.7L1014.6 1351.7L1014.8 1367.1L1015.0 1352.5L1015.2 1368.1L1015.4 1351.3L1015.6 1360.9L1015.8 1348.8L1016.0 1363.4L1016.2 1359.8L1016.4 1372.0L1016.6 1351.3L1016.8 1361.3L1017.0 1352.6L1017.2 1369.0L1017.4 1351.1L1017.6 1370.6L1017.8 1347.2L1018.0 1366.7L1018.2 1353.9L1018.4 1362.9L1018.6 1350.6L1018.8 1366.6L1019.0 1344.2L1019.2 1357.7L1019.4 1347.2L1019.6 1364.1L1019.8 1353.9L1020.0 1366.0L1020.2 1343.9L1020.4 1363.7L1020.6 1343.3L1020.8 1356.2L1021.0 1335.3L1021.2 1361.3L1021.4 1339.5L1021.6 1368.6L1021.8 1341.4L1022.0 1369.5L1022.2 1352.5L1022.4 1369.2L1022.6 1343.0L1022.8 1366.9L1023.0 1353.7L1023.2 1368.6L1023.4 1348.1L1023.6 1366.2L1023.8 1357.6L1024.0 1370.4L1024.2 1349.0L1024.4 1372.5L1024.6 1350.3L1024.8 1363.4L1025.0 1358.1L1025.2 1369.7L1025.4 1361.1L1025.6 1373.2L1025.8 1355.9L1026.0 1365.0L1026.2 1354.1L1026.4 1371.5L1026.6 1375.2L1026.8 1373.6L1027.0 1357.7L1027.2 1369.5L1027.4 1346.5L1027.6 1359.6L1027.8 1353.2L1028.0 1364.0L1028.2 1339.9L1028.4 1371.5L1028.6 1349.4L1028.8 1379.6L1029.0 1352.5L1029.2 1386.4L1029.4 1354.1L1029.6 1393.6L1029.8 1401.4L1030.0 1382.7L1031.5 1401.5L1086.0 1401.5"/>
<path class="r" d="M885.5 1152.0L885.5 1183.0L884.5 1215.0L883.5 1264.0L881.5 1275.0L880.5 1300.0"/>
<path class="r" d="M884.5 1162.0L884.5 1200.0L883.5 1230.0L882.5 1264.0"/>
<rect class="fb" x="699" y="1400" width="37" height="2"/>
<rect class="fb" x="1030" y="1401" width="56" height="1"/>
<rect class="fb" x="1027" y="1370" width="3" height="32"/>
<rect class="fb" x="1030" y="1386" width="1" height="16"/>
<path class="gmin" d="M708.5 867V1402"/>
<path class="gmin" d="M732.5 867V1402"/>
<path class="gmin" d="M755.5 867V1402"/>
<path class="gmin" d="M779.5 867V1402"/>
<path class="gmin" d="M802.5 867V1402"/>
<path class="gmin" d="M826.5 867V1402"/>
<path class="gmin" d="M850.5 867V1402"/>
<path class="gmin" d="M873.5 867V1402"/>
<path class="gx" d="M897.5 867V1402"/>
<path class="gmin" d="M920.5 867V1402"/>
<path class="gmin" d="M944.5 867V1402"/>
<path class="gmin" d="M968.5 867V1402"/>
<path class="gmin" d="M991.5 867V1402"/>
<path class="gmin" d="M1015.5 867V1402"/>
<path class="gmin" d="M1038.5 867V1402"/>
<path class="gmin" d="M1062.5 867V1402"/>
<path class="ax" d="M685.5 864.5H1086.5V1402.5H685.5Z"/>
<path class="ax" d="M685 1402.5h6M1087 1402.5h-6"/>
<text transform="translate(679 1411.5) scale(1.045 1)" text-anchor="end" font-size="24">0</text>
<path class="ax" d="M685 1380.5h3M1087 1380.5h-3"/>
<path class="ax" d="M685 1358.5h3M1087 1358.5h-3"/>
<path class="ax" d="M685 1337.5h3M1087 1337.5h-3"/>
<path class="ax" d="M685 1315.5h3M1087 1315.5h-3"/>
<path class="ax" d="M685 1294.5h6M1087 1294.5h-6"/>
<text transform="translate(679 1303.5) scale(1.045 1)" text-anchor="end" font-size="24">200</text>
<path class="ax" d="M685 1272.5h3M1087 1272.5h-3"/>
<path class="ax" d="M685 1251.5h3M1087 1251.5h-3"/>
<path class="ax" d="M685 1229.5h3M1087 1229.5h-3"/>
<path class="ax" d="M685 1208.5h3M1087 1208.5h-3"/>
<path class="ax" d="M685 1186.5h6M1087 1186.5h-6"/>
<text transform="translate(679 1195.5) scale(1.045 1)" text-anchor="end" font-size="24">400</text>
<path class="ax" d="M685 1165.5h3M1087 1165.5h-3"/>
<path class="ax" d="M685 1143.5h3M1087 1143.5h-3"/>
<path class="ax" d="M685 1122.5h3M1087 1122.5h-3"/>
<path class="ax" d="M685 1100.5h3M1087 1100.5h-3"/>
<path class="ax" d="M685 1079.5h6M1087 1079.5h-6"/>
<text transform="translate(679 1088.5) scale(1.045 1)" text-anchor="end" font-size="24">600</text>
<path class="ax" d="M685 1057.5h3M1087 1057.5h-3"/>
<path class="ax" d="M685 1036.5h3M1087 1036.5h-3"/>
<path class="ax" d="M685 1014.5h3M1087 1014.5h-3"/>
<path class="ax" d="M685 993.5h3M1087 993.5h-3"/>
<path class="ax" d="M685 971.5h6M1087 971.5h-6"/>
<text transform="translate(679 980.5) scale(1.045 1)" text-anchor="end" font-size="24">800</text>
<path class="ax" d="M685 950.5h3M1087 950.5h-3"/>
<path class="ax" d="M685 928.5h3M1087 928.5h-3"/>
<path class="ax" d="M685 907.5h3M1087 907.5h-3"/>
<path class="ax" d="M685 885.5h3M1087 885.5h-3"/>
<path class="ax" d="M685 864.5h6M1087 864.5h-6"/>
<text transform="translate(679 873.5) scale(1.045 1)" text-anchor="end" font-size="24">1000</text>
<path class="ax" d="M897.5 1403v-6M897.5 864v6"/>
<text transform="translate(897.5 1433) scale(1.045 1)" text-anchor="middle" font-size="24">14:50</text>
<text transform="translate(885.0 843.5) scale(1.045 1)" text-anchor="middle" font-size="24">20120304 144138 Amp red(150MHz)</text>
<text transform="translate(883.5 1461) scale(1.045 1)" text-anchor="middle" font-size="24">UT, from 14:41 to 14:58 UT</text>
<text transform="translate(606.5 1134.0) rotate(-90) scale(1.045 1)" text-anchor="middle" font-size="24">Amp</text>
</svg></body></html>
